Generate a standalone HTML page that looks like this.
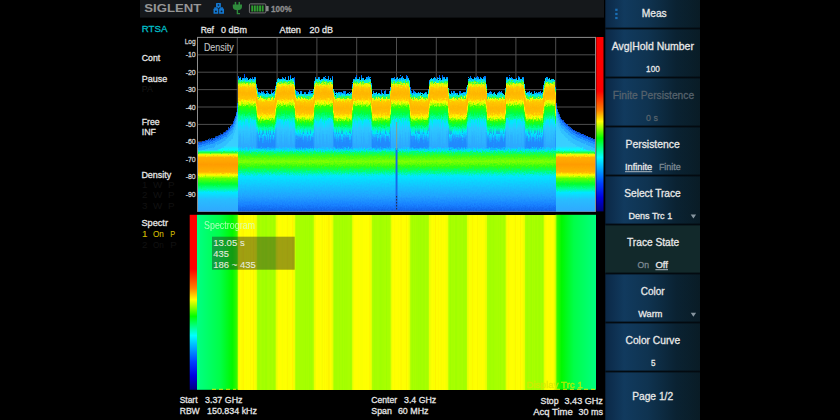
<!DOCTYPE html>
<html><head><meta charset="utf-8"><title>RTSA</title>
<style>html,body{margin:0;padding:0;background:#000;}svg{display:block;font-family:"Liberation Sans",sans-serif;}</style>
</head><body>
<svg width="840" height="420" viewBox="0 0 840 420">
<defs><filter id="spk2" filterUnits="userSpaceOnUse" x="190" y="30" width="412" height="192" color-interpolation-filters="sRGB"><feTurbulence type="fractalNoise" baseFrequency="0.75 0.55" numOctaves="2" seed="9" result="n"/><feColorMatrix in="n" type="matrix" values="0 0 0 0 0.5  0 1 0 0 0  0 0 0 0 0  0 0 0 0 1" result="m"/><feDisplacementMap in="SourceGraphic" in2="m" scale="2.5" xChannelSelector="R" yChannelSelector="G"/><feGaussianBlur stdDeviation="0.5"/></filter><filter id="spk" filterUnits="userSpaceOnUse" x="190" y="30" width="412" height="192" color-interpolation-filters="sRGB"><feTurbulence type="fractalNoise" baseFrequency="0.75 0.55" numOctaves="2" seed="4" result="n"/><feColorMatrix in="n" type="matrix" values="0 0 0 0 0.5  0 1 0 0 0  0 0 0 0 0  0 0 0 0 1" result="m"/><feDisplacementMap in="SourceGraphic" in2="m" scale="5.5" xChannelSelector="R" yChannelSelector="G"/><feGaussianBlur stdDeviation="0.45"/></filter><clipPath id="pc"><rect x="198" y="37.4" width="397" height="174.0"/></clipPath><linearGradient id="cbar" gradientUnits="objectBoundingBox" x1="0" y1="0" x2="0" y2="1"><stop offset="0.0000" stop-color="#ff0000"/><stop offset="0.3100" stop-color="#ff0000"/><stop offset="0.4200" stop-color="#ff8000"/><stop offset="0.4850" stop-color="#ffff00"/><stop offset="0.5800" stop-color="#00ff00"/><stop offset="0.6900" stop-color="#00ffff"/><stop offset="0.8400" stop-color="#0040ff"/><stop offset="0.9200" stop-color="#0000e0"/><stop offset="1.0000" stop-color="#000080"/></linearGradient><linearGradient id="d0_0" gradientUnits="userSpaceOnUse" x1="0" y1="70" x2="0" y2="218"><stop offset="0.1385" stop-color="#0048f0"/><stop offset="0.1530" stop-color="#0090ff"/><stop offset="0.1642" stop-color="#00e8ff"/><stop offset="0.1865" stop-color="#30ff30"/><stop offset="0.1922" stop-color="#f0ff00"/><stop offset="0.2167" stop-color="#ffc800"/><stop offset="0.2549" stop-color="#ffb400"/><stop offset="0.2913" stop-color="#ffc400"/><stop offset="0.3177" stop-color="#ffff00"/><stop offset="0.3282" stop-color="#a0ff00"/><stop offset="0.3471" stop-color="#30ff00"/><stop offset="0.3692" stop-color="#00ff40"/><stop offset="0.3931" stop-color="#00ffa0"/><stop offset="0.4153" stop-color="#00e8ff"/><stop offset="0.4614" stop-color="#2498ff"/><stop offset="0.4687" stop-color="#208cff"/><stop offset="0.5203" stop-color="#2088fc"/><stop offset="0.5405" stop-color="#00e0ff"/><stop offset="0.5574" stop-color="#00ff70"/><stop offset="0.5845" stop-color="#40ff10"/><stop offset="0.6182" stop-color="#80ff00"/><stop offset="0.6520" stop-color="#30ff10"/><stop offset="0.6824" stop-color="#00ff70"/><stop offset="0.7162" stop-color="#00e8ff"/><stop offset="0.7838" stop-color="#14c4ff"/><stop offset="0.8514" stop-color="#20a4ff"/><stop offset="0.9122" stop-color="#1880ff"/><stop offset="0.9554" stop-color="#1060e8"/><stop offset="1.0000" stop-color="#1060e8"/></linearGradient><linearGradient id="d0_1" gradientUnits="userSpaceOnUse" x1="0" y1="70" x2="0" y2="218"><stop offset="0.1385" stop-color="#0048f0"/><stop offset="0.1517" stop-color="#0090ff"/><stop offset="0.1706" stop-color="#00e8ff"/><stop offset="0.1905" stop-color="#30ff30"/><stop offset="0.1990" stop-color="#f0ff00"/><stop offset="0.2148" stop-color="#ffc800"/><stop offset="0.2632" stop-color="#ffb400"/><stop offset="0.2912" stop-color="#ffc400"/><stop offset="0.3224" stop-color="#ffff00"/><stop offset="0.3316" stop-color="#a0ff00"/><stop offset="0.3432" stop-color="#30ff00"/><stop offset="0.3698" stop-color="#00ff40"/><stop offset="0.3961" stop-color="#00ffa0"/><stop offset="0.4308" stop-color="#2498ff"/><stop offset="0.4339" stop-color="#00e8ff"/><stop offset="0.4903" stop-color="#208cff"/><stop offset="0.5203" stop-color="#2088fc"/><stop offset="0.5405" stop-color="#00e0ff"/><stop offset="0.5574" stop-color="#00ff70"/><stop offset="0.5845" stop-color="#40ff10"/><stop offset="0.6182" stop-color="#80ff00"/><stop offset="0.6520" stop-color="#30ff10"/><stop offset="0.6824" stop-color="#00ff70"/><stop offset="0.7162" stop-color="#00e8ff"/><stop offset="0.7838" stop-color="#14c4ff"/><stop offset="0.8514" stop-color="#20a4ff"/><stop offset="0.9122" stop-color="#1880ff"/><stop offset="0.9554" stop-color="#1060e8"/><stop offset="1.0000" stop-color="#1060e8"/></linearGradient><linearGradient id="d0_2" gradientUnits="userSpaceOnUse" x1="0" y1="70" x2="0" y2="218"><stop offset="0.1385" stop-color="#0048f0"/><stop offset="0.1573" stop-color="#0090ff"/><stop offset="0.1672" stop-color="#00e8ff"/><stop offset="0.1851" stop-color="#30ff30"/><stop offset="0.1921" stop-color="#f0ff00"/><stop offset="0.2103" stop-color="#ffc800"/><stop offset="0.2528" stop-color="#ffb400"/><stop offset="0.2997" stop-color="#ffc400"/><stop offset="0.3166" stop-color="#ffff00"/><stop offset="0.3319" stop-color="#a0ff00"/><stop offset="0.3491" stop-color="#30ff00"/><stop offset="0.3744" stop-color="#00ff40"/><stop offset="0.3959" stop-color="#00ffa0"/><stop offset="0.4328" stop-color="#00e8ff"/><stop offset="0.4554" stop-color="#2498ff"/><stop offset="0.4744" stop-color="#208cff"/><stop offset="0.5203" stop-color="#2088fc"/><stop offset="0.5405" stop-color="#00e0ff"/><stop offset="0.5574" stop-color="#00ff70"/><stop offset="0.5845" stop-color="#40ff10"/><stop offset="0.6182" stop-color="#80ff00"/><stop offset="0.6520" stop-color="#30ff10"/><stop offset="0.6824" stop-color="#00ff70"/><stop offset="0.7162" stop-color="#00e8ff"/><stop offset="0.7838" stop-color="#14c4ff"/><stop offset="0.8514" stop-color="#20a4ff"/><stop offset="0.9122" stop-color="#1880ff"/><stop offset="0.9554" stop-color="#1060e8"/><stop offset="1.0000" stop-color="#1060e8"/></linearGradient><linearGradient id="d0_3" gradientUnits="userSpaceOnUse" x1="0" y1="70" x2="0" y2="218"><stop offset="0.1385" stop-color="#0048f0"/><stop offset="0.1564" stop-color="#0090ff"/><stop offset="0.1693" stop-color="#00e8ff"/><stop offset="0.1895" stop-color="#30ff30"/><stop offset="0.2011" stop-color="#f0ff00"/><stop offset="0.2134" stop-color="#ffc800"/><stop offset="0.2632" stop-color="#ffb400"/><stop offset="0.2921" stop-color="#ffc400"/><stop offset="0.3165" stop-color="#ffff00"/><stop offset="0.3379" stop-color="#a0ff00"/><stop offset="0.3433" stop-color="#30ff00"/><stop offset="0.3749" stop-color="#00ff40"/><stop offset="0.3924" stop-color="#00ffa0"/><stop offset="0.4269" stop-color="#00e8ff"/><stop offset="0.4585" stop-color="#2498ff"/><stop offset="0.4899" stop-color="#208cff"/><stop offset="0.5203" stop-color="#2088fc"/><stop offset="0.5405" stop-color="#00e0ff"/><stop offset="0.5574" stop-color="#00ff70"/><stop offset="0.5845" stop-color="#40ff10"/><stop offset="0.6182" stop-color="#80ff00"/><stop offset="0.6520" stop-color="#30ff10"/><stop offset="0.6824" stop-color="#00ff70"/><stop offset="0.7162" stop-color="#00e8ff"/><stop offset="0.7838" stop-color="#14c4ff"/><stop offset="0.8514" stop-color="#20a4ff"/><stop offset="0.9122" stop-color="#1880ff"/><stop offset="0.9554" stop-color="#1060e8"/><stop offset="1.0000" stop-color="#1060e8"/></linearGradient><linearGradient id="d1_0" gradientUnits="userSpaceOnUse" x1="0" y1="70" x2="0" y2="218"><stop offset="0.1189" stop-color="#0048f0"/><stop offset="0.1410" stop-color="#0090ff"/><stop offset="0.1471" stop-color="#00e8ff"/><stop offset="0.1674" stop-color="#30ff30"/><stop offset="0.1795" stop-color="#f0ff00"/><stop offset="0.1977" stop-color="#ffc800"/><stop offset="0.2359" stop-color="#ffb400"/><stop offset="0.2816" stop-color="#ffc400"/><stop offset="0.3033" stop-color="#ffff00"/><stop offset="0.3138" stop-color="#a0ff00"/><stop offset="0.3306" stop-color="#30ff00"/><stop offset="0.3522" stop-color="#00ff40"/><stop offset="0.3865" stop-color="#00ffa0"/><stop offset="0.4114" stop-color="#00e8ff"/><stop offset="0.4585" stop-color="#26a2ff"/><stop offset="0.4990" stop-color="#2293ff"/><stop offset="0.5203" stop-color="#228efd"/><stop offset="0.5405" stop-color="#00e0ff"/><stop offset="0.5574" stop-color="#00ff70"/><stop offset="0.5845" stop-color="#40ff10"/><stop offset="0.6182" stop-color="#80ff00"/><stop offset="0.6520" stop-color="#30ff10"/><stop offset="0.6824" stop-color="#00ff70"/><stop offset="0.7162" stop-color="#00e8ff"/><stop offset="0.7838" stop-color="#14c4ff"/><stop offset="0.8514" stop-color="#20a4ff"/><stop offset="0.9122" stop-color="#1880ff"/><stop offset="0.9554" stop-color="#1060e8"/><stop offset="1.0000" stop-color="#1060e8"/></linearGradient><linearGradient id="d1_1" gradientUnits="userSpaceOnUse" x1="0" y1="70" x2="0" y2="218"><stop offset="0.1189" stop-color="#0048f0"/><stop offset="0.1330" stop-color="#0090ff"/><stop offset="0.1481" stop-color="#00e8ff"/><stop offset="0.1670" stop-color="#30ff30"/><stop offset="0.1718" stop-color="#f0ff00"/><stop offset="0.1961" stop-color="#ffc800"/><stop offset="0.2320" stop-color="#ffb400"/><stop offset="0.2719" stop-color="#ffc400"/><stop offset="0.2913" stop-color="#ffff00"/><stop offset="0.3178" stop-color="#a0ff00"/><stop offset="0.3234" stop-color="#30ff00"/><stop offset="0.3547" stop-color="#00ff40"/><stop offset="0.3823" stop-color="#00ffa0"/><stop offset="0.4153" stop-color="#26a2ff"/><stop offset="0.4220" stop-color="#00e8ff"/><stop offset="0.4814" stop-color="#2293ff"/><stop offset="0.5203" stop-color="#228efd"/><stop offset="0.5405" stop-color="#00e0ff"/><stop offset="0.5574" stop-color="#00ff70"/><stop offset="0.5845" stop-color="#40ff10"/><stop offset="0.6182" stop-color="#80ff00"/><stop offset="0.6520" stop-color="#30ff10"/><stop offset="0.6824" stop-color="#00ff70"/><stop offset="0.7162" stop-color="#00e8ff"/><stop offset="0.7838" stop-color="#14c4ff"/><stop offset="0.8514" stop-color="#20a4ff"/><stop offset="0.9122" stop-color="#1880ff"/><stop offset="0.9554" stop-color="#1060e8"/><stop offset="1.0000" stop-color="#1060e8"/></linearGradient><linearGradient id="d1_2" gradientUnits="userSpaceOnUse" x1="0" y1="70" x2="0" y2="218"><stop offset="0.1189" stop-color="#0048f0"/><stop offset="0.1366" stop-color="#0090ff"/><stop offset="0.1548" stop-color="#00e8ff"/><stop offset="0.1690" stop-color="#30ff30"/><stop offset="0.1832" stop-color="#f0ff00"/><stop offset="0.1936" stop-color="#ffc800"/><stop offset="0.2353" stop-color="#ffb400"/><stop offset="0.2751" stop-color="#ffc400"/><stop offset="0.3025" stop-color="#ffff00"/><stop offset="0.3204" stop-color="#a0ff00"/><stop offset="0.3237" stop-color="#30ff00"/><stop offset="0.3537" stop-color="#00ff40"/><stop offset="0.3802" stop-color="#00ffa0"/><stop offset="0.3918" stop-color="#00e8ff"/><stop offset="0.4344" stop-color="#26a2ff"/><stop offset="0.4880" stop-color="#2293ff"/><stop offset="0.5203" stop-color="#228efd"/><stop offset="0.5405" stop-color="#00e0ff"/><stop offset="0.5574" stop-color="#00ff70"/><stop offset="0.5845" stop-color="#40ff10"/><stop offset="0.6182" stop-color="#80ff00"/><stop offset="0.6520" stop-color="#30ff10"/><stop offset="0.6824" stop-color="#00ff70"/><stop offset="0.7162" stop-color="#00e8ff"/><stop offset="0.7838" stop-color="#14c4ff"/><stop offset="0.8514" stop-color="#20a4ff"/><stop offset="0.9122" stop-color="#1880ff"/><stop offset="0.9554" stop-color="#1060e8"/><stop offset="1.0000" stop-color="#1060e8"/></linearGradient><linearGradient id="d1_3" gradientUnits="userSpaceOnUse" x1="0" y1="70" x2="0" y2="218"><stop offset="0.1189" stop-color="#0048f0"/><stop offset="0.1327" stop-color="#0090ff"/><stop offset="0.1429" stop-color="#00e8ff"/><stop offset="0.1636" stop-color="#30ff30"/><stop offset="0.1765" stop-color="#f0ff00"/><stop offset="0.1975" stop-color="#ffc800"/><stop offset="0.2426" stop-color="#ffb400"/><stop offset="0.2796" stop-color="#ffc400"/><stop offset="0.2975" stop-color="#ffff00"/><stop offset="0.3158" stop-color="#a0ff00"/><stop offset="0.3308" stop-color="#30ff00"/><stop offset="0.3521" stop-color="#00ff40"/><stop offset="0.3892" stop-color="#00ffa0"/><stop offset="0.4177" stop-color="#00e8ff"/><stop offset="0.4528" stop-color="#26a2ff"/><stop offset="0.4979" stop-color="#2293ff"/><stop offset="0.5203" stop-color="#228efd"/><stop offset="0.5405" stop-color="#00e0ff"/><stop offset="0.5574" stop-color="#00ff70"/><stop offset="0.5845" stop-color="#40ff10"/><stop offset="0.6182" stop-color="#80ff00"/><stop offset="0.6520" stop-color="#30ff10"/><stop offset="0.6824" stop-color="#00ff70"/><stop offset="0.7162" stop-color="#00e8ff"/><stop offset="0.7838" stop-color="#14c4ff"/><stop offset="0.8514" stop-color="#20a4ff"/><stop offset="0.9122" stop-color="#1880ff"/><stop offset="0.9554" stop-color="#1060e8"/><stop offset="1.0000" stop-color="#1060e8"/></linearGradient><linearGradient id="d2_0" gradientUnits="userSpaceOnUse" x1="0" y1="70" x2="0" y2="218"><stop offset="0.0993" stop-color="#0048f0"/><stop offset="0.1150" stop-color="#0090ff"/><stop offset="0.1289" stop-color="#00e8ff"/><stop offset="0.1396" stop-color="#30ff30"/><stop offset="0.1603" stop-color="#f0ff00"/><stop offset="0.1711" stop-color="#ffc800"/><stop offset="0.2104" stop-color="#ffb400"/><stop offset="0.2528" stop-color="#ffc400"/><stop offset="0.2725" stop-color="#ffff00"/><stop offset="0.2918" stop-color="#a0ff00"/><stop offset="0.3027" stop-color="#30ff00"/><stop offset="0.3345" stop-color="#00ff40"/><stop offset="0.3642" stop-color="#00ffa0"/><stop offset="0.3712" stop-color="#00e8ff"/><stop offset="0.4179" stop-color="#27abff"/><stop offset="0.4586" stop-color="#259aff"/><stop offset="0.5203" stop-color="#2595fd"/><stop offset="0.5405" stop-color="#00e0ff"/><stop offset="0.5574" stop-color="#00ff70"/><stop offset="0.5845" stop-color="#40ff10"/><stop offset="0.6182" stop-color="#80ff00"/><stop offset="0.6520" stop-color="#30ff10"/><stop offset="0.6824" stop-color="#00ff70"/><stop offset="0.7162" stop-color="#00e8ff"/><stop offset="0.7838" stop-color="#14c4ff"/><stop offset="0.8514" stop-color="#20a4ff"/><stop offset="0.9122" stop-color="#1880ff"/><stop offset="0.9554" stop-color="#1060e8"/><stop offset="1.0000" stop-color="#1060e8"/></linearGradient><linearGradient id="d2_1" gradientUnits="userSpaceOnUse" x1="0" y1="70" x2="0" y2="218"><stop offset="0.0993" stop-color="#0048f0"/><stop offset="0.1215" stop-color="#0090ff"/><stop offset="0.1318" stop-color="#00e8ff"/><stop offset="0.1403" stop-color="#30ff30"/><stop offset="0.1552" stop-color="#f0ff00"/><stop offset="0.1750" stop-color="#ffc800"/><stop offset="0.2144" stop-color="#ffb400"/><stop offset="0.2517" stop-color="#ffc400"/><stop offset="0.2817" stop-color="#ffff00"/><stop offset="0.3006" stop-color="#a0ff00"/><stop offset="0.3083" stop-color="#30ff00"/><stop offset="0.3410" stop-color="#00ff40"/><stop offset="0.3633" stop-color="#00ffa0"/><stop offset="0.3712" stop-color="#00e8ff"/><stop offset="0.4169" stop-color="#27abff"/><stop offset="0.4700" stop-color="#259aff"/><stop offset="0.5203" stop-color="#2595fd"/><stop offset="0.5405" stop-color="#00e0ff"/><stop offset="0.5574" stop-color="#00ff70"/><stop offset="0.5845" stop-color="#40ff10"/><stop offset="0.6182" stop-color="#80ff00"/><stop offset="0.6520" stop-color="#30ff10"/><stop offset="0.6824" stop-color="#00ff70"/><stop offset="0.7162" stop-color="#00e8ff"/><stop offset="0.7838" stop-color="#14c4ff"/><stop offset="0.8514" stop-color="#20a4ff"/><stop offset="0.9122" stop-color="#1880ff"/><stop offset="0.9554" stop-color="#1060e8"/><stop offset="1.0000" stop-color="#1060e8"/></linearGradient><linearGradient id="d2_2" gradientUnits="userSpaceOnUse" x1="0" y1="70" x2="0" y2="218"><stop offset="0.0993" stop-color="#0048f0"/><stop offset="0.1209" stop-color="#0090ff"/><stop offset="0.1257" stop-color="#00e8ff"/><stop offset="0.1386" stop-color="#30ff30"/><stop offset="0.1646" stop-color="#f0ff00"/><stop offset="0.1774" stop-color="#ffc800"/><stop offset="0.2114" stop-color="#ffb400"/><stop offset="0.2573" stop-color="#ffc400"/><stop offset="0.2706" stop-color="#ffff00"/><stop offset="0.2943" stop-color="#a0ff00"/><stop offset="0.3153" stop-color="#30ff00"/><stop offset="0.3461" stop-color="#00ff40"/><stop offset="0.3716" stop-color="#00ffa0"/><stop offset="0.3787" stop-color="#00e8ff"/><stop offset="0.4180" stop-color="#27abff"/><stop offset="0.4653" stop-color="#259aff"/><stop offset="0.5203" stop-color="#2595fd"/><stop offset="0.5405" stop-color="#00e0ff"/><stop offset="0.5574" stop-color="#00ff70"/><stop offset="0.5845" stop-color="#40ff10"/><stop offset="0.6182" stop-color="#80ff00"/><stop offset="0.6520" stop-color="#30ff10"/><stop offset="0.6824" stop-color="#00ff70"/><stop offset="0.7162" stop-color="#00e8ff"/><stop offset="0.7838" stop-color="#14c4ff"/><stop offset="0.8514" stop-color="#20a4ff"/><stop offset="0.9122" stop-color="#1880ff"/><stop offset="0.9554" stop-color="#1060e8"/><stop offset="1.0000" stop-color="#1060e8"/></linearGradient><linearGradient id="d2_3" gradientUnits="userSpaceOnUse" x1="0" y1="70" x2="0" y2="218"><stop offset="0.0993" stop-color="#0048f0"/><stop offset="0.1202" stop-color="#0090ff"/><stop offset="0.1307" stop-color="#00e8ff"/><stop offset="0.1488" stop-color="#30ff30"/><stop offset="0.1562" stop-color="#f0ff00"/><stop offset="0.1733" stop-color="#ffc800"/><stop offset="0.2204" stop-color="#ffb400"/><stop offset="0.2633" stop-color="#ffc400"/><stop offset="0.2818" stop-color="#ffff00"/><stop offset="0.2981" stop-color="#a0ff00"/><stop offset="0.3131" stop-color="#30ff00"/><stop offset="0.3445" stop-color="#00ff40"/><stop offset="0.3652" stop-color="#00ffa0"/><stop offset="0.3908" stop-color="#00e8ff"/><stop offset="0.4175" stop-color="#27abff"/><stop offset="0.4588" stop-color="#259aff"/><stop offset="0.5203" stop-color="#2595fd"/><stop offset="0.5405" stop-color="#00e0ff"/><stop offset="0.5574" stop-color="#00ff70"/><stop offset="0.5845" stop-color="#40ff10"/><stop offset="0.6182" stop-color="#80ff00"/><stop offset="0.6520" stop-color="#30ff10"/><stop offset="0.6824" stop-color="#00ff70"/><stop offset="0.7162" stop-color="#00e8ff"/><stop offset="0.7838" stop-color="#14c4ff"/><stop offset="0.8514" stop-color="#20a4ff"/><stop offset="0.9122" stop-color="#1880ff"/><stop offset="0.9554" stop-color="#1060e8"/><stop offset="1.0000" stop-color="#1060e8"/></linearGradient><linearGradient id="d3_0" gradientUnits="userSpaceOnUse" x1="0" y1="70" x2="0" y2="218"><stop offset="0.0797" stop-color="#0048f0"/><stop offset="0.0906" stop-color="#0090ff"/><stop offset="0.1080" stop-color="#00e8ff"/><stop offset="0.1220" stop-color="#30ff30"/><stop offset="0.1414" stop-color="#f0ff00"/><stop offset="0.1636" stop-color="#ffc800"/><stop offset="0.1952" stop-color="#ffb400"/><stop offset="0.2424" stop-color="#ffc400"/><stop offset="0.2634" stop-color="#ffff00"/><stop offset="0.2798" stop-color="#a0ff00"/><stop offset="0.2874" stop-color="#30ff00"/><stop offset="0.3205" stop-color="#00ff40"/><stop offset="0.3504" stop-color="#00ffa0"/><stop offset="0.3612" stop-color="#00e8ff"/><stop offset="0.3995" stop-color="#29b5ff"/><stop offset="0.4842" stop-color="#27a2ff"/><stop offset="0.5203" stop-color="#279bfe"/><stop offset="0.5405" stop-color="#00e0ff"/><stop offset="0.5574" stop-color="#00ff70"/><stop offset="0.5845" stop-color="#40ff10"/><stop offset="0.6182" stop-color="#80ff00"/><stop offset="0.6520" stop-color="#30ff10"/><stop offset="0.6824" stop-color="#00ff70"/><stop offset="0.7162" stop-color="#00e8ff"/><stop offset="0.7838" stop-color="#14c4ff"/><stop offset="0.8514" stop-color="#20a4ff"/><stop offset="0.9122" stop-color="#1880ff"/><stop offset="0.9554" stop-color="#1060e8"/><stop offset="1.0000" stop-color="#1060e8"/></linearGradient><linearGradient id="d3_1" gradientUnits="userSpaceOnUse" x1="0" y1="70" x2="0" y2="218"><stop offset="0.0797" stop-color="#0048f0"/><stop offset="0.1024" stop-color="#0090ff"/><stop offset="0.1155" stop-color="#00e8ff"/><stop offset="0.1250" stop-color="#30ff30"/><stop offset="0.1409" stop-color="#f0ff00"/><stop offset="0.1615" stop-color="#ffc800"/><stop offset="0.1903" stop-color="#ffb400"/><stop offset="0.2387" stop-color="#ffc400"/><stop offset="0.2623" stop-color="#ffff00"/><stop offset="0.2775" stop-color="#a0ff00"/><stop offset="0.2926" stop-color="#30ff00"/><stop offset="0.3240" stop-color="#00ff40"/><stop offset="0.3497" stop-color="#00ffa0"/><stop offset="0.3892" stop-color="#00e8ff"/><stop offset="0.4056" stop-color="#29b5ff"/><stop offset="0.4926" stop-color="#27a2ff"/><stop offset="0.5203" stop-color="#279bfe"/><stop offset="0.5405" stop-color="#00e0ff"/><stop offset="0.5574" stop-color="#00ff70"/><stop offset="0.5845" stop-color="#40ff10"/><stop offset="0.6182" stop-color="#80ff00"/><stop offset="0.6520" stop-color="#30ff10"/><stop offset="0.6824" stop-color="#00ff70"/><stop offset="0.7162" stop-color="#00e8ff"/><stop offset="0.7838" stop-color="#14c4ff"/><stop offset="0.8514" stop-color="#20a4ff"/><stop offset="0.9122" stop-color="#1880ff"/><stop offset="0.9554" stop-color="#1060e8"/><stop offset="1.0000" stop-color="#1060e8"/></linearGradient><linearGradient id="d3_2" gradientUnits="userSpaceOnUse" x1="0" y1="70" x2="0" y2="218"><stop offset="0.0797" stop-color="#0048f0"/><stop offset="0.1034" stop-color="#0090ff"/><stop offset="0.1095" stop-color="#00e8ff"/><stop offset="0.1239" stop-color="#30ff30"/><stop offset="0.1448" stop-color="#f0ff00"/><stop offset="0.1605" stop-color="#ffc800"/><stop offset="0.1915" stop-color="#ffb400"/><stop offset="0.2314" stop-color="#ffc400"/><stop offset="0.2520" stop-color="#ffff00"/><stop offset="0.2791" stop-color="#a0ff00"/><stop offset="0.2933" stop-color="#30ff00"/><stop offset="0.3195" stop-color="#00ff40"/><stop offset="0.3585" stop-color="#00ffa0"/><stop offset="0.3983" stop-color="#00e8ff"/><stop offset="0.4210" stop-color="#29b5ff"/><stop offset="0.4713" stop-color="#27a2ff"/><stop offset="0.5203" stop-color="#279bfe"/><stop offset="0.5405" stop-color="#00e0ff"/><stop offset="0.5574" stop-color="#00ff70"/><stop offset="0.5845" stop-color="#40ff10"/><stop offset="0.6182" stop-color="#80ff00"/><stop offset="0.6520" stop-color="#30ff10"/><stop offset="0.6824" stop-color="#00ff70"/><stop offset="0.7162" stop-color="#00e8ff"/><stop offset="0.7838" stop-color="#14c4ff"/><stop offset="0.8514" stop-color="#20a4ff"/><stop offset="0.9122" stop-color="#1880ff"/><stop offset="0.9554" stop-color="#1060e8"/><stop offset="1.0000" stop-color="#1060e8"/></linearGradient><linearGradient id="d3_3" gradientUnits="userSpaceOnUse" x1="0" y1="70" x2="0" y2="218"><stop offset="0.0797" stop-color="#0048f0"/><stop offset="0.0977" stop-color="#0090ff"/><stop offset="0.1060" stop-color="#00e8ff"/><stop offset="0.1187" stop-color="#30ff30"/><stop offset="0.1451" stop-color="#f0ff00"/><stop offset="0.1595" stop-color="#ffc800"/><stop offset="0.1963" stop-color="#ffb400"/><stop offset="0.2423" stop-color="#ffc400"/><stop offset="0.2559" stop-color="#ffff00"/><stop offset="0.2787" stop-color="#a0ff00"/><stop offset="0.2936" stop-color="#30ff00"/><stop offset="0.3204" stop-color="#00ff40"/><stop offset="0.3507" stop-color="#00ffa0"/><stop offset="0.3657" stop-color="#00e8ff"/><stop offset="0.4012" stop-color="#29b5ff"/><stop offset="0.4825" stop-color="#27a2ff"/><stop offset="0.5203" stop-color="#279bfe"/><stop offset="0.5405" stop-color="#00e0ff"/><stop offset="0.5574" stop-color="#00ff70"/><stop offset="0.5845" stop-color="#40ff10"/><stop offset="0.6182" stop-color="#80ff00"/><stop offset="0.6520" stop-color="#30ff10"/><stop offset="0.6824" stop-color="#00ff70"/><stop offset="0.7162" stop-color="#00e8ff"/><stop offset="0.7838" stop-color="#14c4ff"/><stop offset="0.8514" stop-color="#20a4ff"/><stop offset="0.9122" stop-color="#1880ff"/><stop offset="0.9554" stop-color="#1060e8"/><stop offset="1.0000" stop-color="#1060e8"/></linearGradient><linearGradient id="d4_0" gradientUnits="userSpaceOnUse" x1="0" y1="70" x2="0" y2="218"><stop offset="0.0601" stop-color="#0048f0"/><stop offset="0.0743" stop-color="#0090ff"/><stop offset="0.0905" stop-color="#00e8ff"/><stop offset="0.1006" stop-color="#30ff30"/><stop offset="0.1246" stop-color="#f0ff00"/><stop offset="0.1359" stop-color="#ffc800"/><stop offset="0.1751" stop-color="#ffb400"/><stop offset="0.2173" stop-color="#ffc400"/><stop offset="0.2419" stop-color="#ffff00"/><stop offset="0.2523" stop-color="#a0ff00"/><stop offset="0.2752" stop-color="#30ff00"/><stop offset="0.3075" stop-color="#00ff40"/><stop offset="0.3396" stop-color="#00ffa0"/><stop offset="0.3622" stop-color="#00e8ff"/><stop offset="0.3799" stop-color="#2abeff"/><stop offset="0.4728" stop-color="#2aa9ff"/><stop offset="0.5203" stop-color="#2aa2fe"/><stop offset="0.5405" stop-color="#00e0ff"/><stop offset="0.5574" stop-color="#00ff70"/><stop offset="0.5845" stop-color="#40ff10"/><stop offset="0.6182" stop-color="#80ff00"/><stop offset="0.6520" stop-color="#30ff10"/><stop offset="0.6824" stop-color="#00ff70"/><stop offset="0.7162" stop-color="#00e8ff"/><stop offset="0.7838" stop-color="#14c4ff"/><stop offset="0.8514" stop-color="#20a4ff"/><stop offset="0.9122" stop-color="#1880ff"/><stop offset="0.9554" stop-color="#1060e8"/><stop offset="1.0000" stop-color="#1060e8"/></linearGradient><linearGradient id="d4_1" gradientUnits="userSpaceOnUse" x1="0" y1="70" x2="0" y2="218"><stop offset="0.0601" stop-color="#0048f0"/><stop offset="0.0733" stop-color="#0090ff"/><stop offset="0.0849" stop-color="#00e8ff"/><stop offset="0.1096" stop-color="#30ff30"/><stop offset="0.1146" stop-color="#f0ff00"/><stop offset="0.1375" stop-color="#ffc800"/><stop offset="0.1787" stop-color="#ffb400"/><stop offset="0.2170" stop-color="#ffc400"/><stop offset="0.2341" stop-color="#ffff00"/><stop offset="0.2536" stop-color="#a0ff00"/><stop offset="0.2703" stop-color="#30ff00"/><stop offset="0.3113" stop-color="#00ff40"/><stop offset="0.3339" stop-color="#00ffa0"/><stop offset="0.3639" stop-color="#00e8ff"/><stop offset="0.3908" stop-color="#2abeff"/><stop offset="0.4651" stop-color="#2aa9ff"/><stop offset="0.5203" stop-color="#2aa2fe"/><stop offset="0.5405" stop-color="#00e0ff"/><stop offset="0.5574" stop-color="#00ff70"/><stop offset="0.5845" stop-color="#40ff10"/><stop offset="0.6182" stop-color="#80ff00"/><stop offset="0.6520" stop-color="#30ff10"/><stop offset="0.6824" stop-color="#00ff70"/><stop offset="0.7162" stop-color="#00e8ff"/><stop offset="0.7838" stop-color="#14c4ff"/><stop offset="0.8514" stop-color="#20a4ff"/><stop offset="0.9122" stop-color="#1880ff"/><stop offset="0.9554" stop-color="#1060e8"/><stop offset="1.0000" stop-color="#1060e8"/></linearGradient><linearGradient id="d4_2" gradientUnits="userSpaceOnUse" x1="0" y1="70" x2="0" y2="218"><stop offset="0.0601" stop-color="#0048f0"/><stop offset="0.0812" stop-color="#0090ff"/><stop offset="0.0917" stop-color="#00e8ff"/><stop offset="0.1064" stop-color="#30ff30"/><stop offset="0.1226" stop-color="#f0ff00"/><stop offset="0.1434" stop-color="#ffc800"/><stop offset="0.1749" stop-color="#ffb400"/><stop offset="0.2177" stop-color="#ffc400"/><stop offset="0.2366" stop-color="#ffff00"/><stop offset="0.2535" stop-color="#a0ff00"/><stop offset="0.2722" stop-color="#30ff00"/><stop offset="0.3068" stop-color="#00ff40"/><stop offset="0.3396" stop-color="#00ffa0"/><stop offset="0.3600" stop-color="#00e8ff"/><stop offset="0.4236" stop-color="#2abeff"/><stop offset="0.4851" stop-color="#2aa9ff"/><stop offset="0.5203" stop-color="#2aa2fe"/><stop offset="0.5405" stop-color="#00e0ff"/><stop offset="0.5574" stop-color="#00ff70"/><stop offset="0.5845" stop-color="#40ff10"/><stop offset="0.6182" stop-color="#80ff00"/><stop offset="0.6520" stop-color="#30ff10"/><stop offset="0.6824" stop-color="#00ff70"/><stop offset="0.7162" stop-color="#00e8ff"/><stop offset="0.7838" stop-color="#14c4ff"/><stop offset="0.8514" stop-color="#20a4ff"/><stop offset="0.9122" stop-color="#1880ff"/><stop offset="0.9554" stop-color="#1060e8"/><stop offset="1.0000" stop-color="#1060e8"/></linearGradient><linearGradient id="d4_3" gradientUnits="userSpaceOnUse" x1="0" y1="70" x2="0" y2="218"><stop offset="0.0601" stop-color="#0048f0"/><stop offset="0.0827" stop-color="#0090ff"/><stop offset="0.0976" stop-color="#00e8ff"/><stop offset="0.1023" stop-color="#30ff30"/><stop offset="0.1199" stop-color="#f0ff00"/><stop offset="0.1438" stop-color="#ffc800"/><stop offset="0.1803" stop-color="#ffb400"/><stop offset="0.2113" stop-color="#ffc400"/><stop offset="0.2314" stop-color="#ffff00"/><stop offset="0.2526" stop-color="#a0ff00"/><stop offset="0.2638" stop-color="#30ff00"/><stop offset="0.3039" stop-color="#00ff40"/><stop offset="0.3334" stop-color="#00ffa0"/><stop offset="0.3691" stop-color="#00e8ff"/><stop offset="0.4161" stop-color="#2abeff"/><stop offset="0.4945" stop-color="#2aa9ff"/><stop offset="0.5203" stop-color="#2aa2fe"/><stop offset="0.5405" stop-color="#00e0ff"/><stop offset="0.5574" stop-color="#00ff70"/><stop offset="0.5845" stop-color="#40ff10"/><stop offset="0.6182" stop-color="#80ff00"/><stop offset="0.6520" stop-color="#30ff10"/><stop offset="0.6824" stop-color="#00ff70"/><stop offset="0.7162" stop-color="#00e8ff"/><stop offset="0.7838" stop-color="#14c4ff"/><stop offset="0.8514" stop-color="#20a4ff"/><stop offset="0.9122" stop-color="#1880ff"/><stop offset="0.9554" stop-color="#1060e8"/><stop offset="1.0000" stop-color="#1060e8"/></linearGradient><linearGradient id="d5_0" gradientUnits="userSpaceOnUse" x1="0" y1="70" x2="0" y2="218"><stop offset="0.0405" stop-color="#0048f0"/><stop offset="0.0534" stop-color="#0090ff"/><stop offset="0.0752" stop-color="#00e8ff"/><stop offset="0.0880" stop-color="#30ff30"/><stop offset="0.0945" stop-color="#f0ff00"/><stop offset="0.1234" stop-color="#ffc800"/><stop offset="0.1617" stop-color="#ffb400"/><stop offset="0.1922" stop-color="#ffc400"/><stop offset="0.2223" stop-color="#ffff00"/><stop offset="0.2317" stop-color="#a0ff00"/><stop offset="0.2498" stop-color="#30ff00"/><stop offset="0.2972" stop-color="#00ff40"/><stop offset="0.3288" stop-color="#00ffa0"/><stop offset="0.3306" stop-color="#00e8ff"/><stop offset="0.3887" stop-color="#2cc8ff"/><stop offset="0.4737" stop-color="#2cb0ff"/><stop offset="0.5203" stop-color="#2ca8ff"/><stop offset="0.5405" stop-color="#00e0ff"/><stop offset="0.5574" stop-color="#00ff70"/><stop offset="0.5845" stop-color="#40ff10"/><stop offset="0.6182" stop-color="#80ff00"/><stop offset="0.6520" stop-color="#30ff10"/><stop offset="0.6824" stop-color="#00ff70"/><stop offset="0.7162" stop-color="#00e8ff"/><stop offset="0.7838" stop-color="#14c4ff"/><stop offset="0.8514" stop-color="#20a4ff"/><stop offset="0.9122" stop-color="#1880ff"/><stop offset="0.9554" stop-color="#1060e8"/><stop offset="1.0000" stop-color="#1060e8"/></linearGradient><linearGradient id="d5_1" gradientUnits="userSpaceOnUse" x1="0" y1="70" x2="0" y2="218"><stop offset="0.0405" stop-color="#0048f0"/><stop offset="0.0559" stop-color="#0090ff"/><stop offset="0.0682" stop-color="#00e8ff"/><stop offset="0.0834" stop-color="#30ff30"/><stop offset="0.1023" stop-color="#f0ff00"/><stop offset="0.1117" stop-color="#ffc800"/><stop offset="0.1561" stop-color="#ffb400"/><stop offset="0.1951" stop-color="#ffc400"/><stop offset="0.2097" stop-color="#ffff00"/><stop offset="0.2308" stop-color="#a0ff00"/><stop offset="0.2517" stop-color="#30ff00"/><stop offset="0.2907" stop-color="#00ff40"/><stop offset="0.3184" stop-color="#00ffa0"/><stop offset="0.3696" stop-color="#00e8ff"/><stop offset="0.4055" stop-color="#2cc8ff"/><stop offset="0.4953" stop-color="#2cb0ff"/><stop offset="0.5203" stop-color="#2ca8ff"/><stop offset="0.5405" stop-color="#00e0ff"/><stop offset="0.5574" stop-color="#00ff70"/><stop offset="0.5845" stop-color="#40ff10"/><stop offset="0.6182" stop-color="#80ff00"/><stop offset="0.6520" stop-color="#30ff10"/><stop offset="0.6824" stop-color="#00ff70"/><stop offset="0.7162" stop-color="#00e8ff"/><stop offset="0.7838" stop-color="#14c4ff"/><stop offset="0.8514" stop-color="#20a4ff"/><stop offset="0.9122" stop-color="#1880ff"/><stop offset="0.9554" stop-color="#1060e8"/><stop offset="1.0000" stop-color="#1060e8"/></linearGradient><linearGradient id="d5_2" gradientUnits="userSpaceOnUse" x1="0" y1="70" x2="0" y2="218"><stop offset="0.0405" stop-color="#0048f0"/><stop offset="0.0528" stop-color="#0090ff"/><stop offset="0.0691" stop-color="#00e8ff"/><stop offset="0.0796" stop-color="#30ff30"/><stop offset="0.1031" stop-color="#f0ff00"/><stop offset="0.1151" stop-color="#ffc800"/><stop offset="0.1504" stop-color="#ffb400"/><stop offset="0.1949" stop-color="#ffc400"/><stop offset="0.2218" stop-color="#ffff00"/><stop offset="0.2374" stop-color="#a0ff00"/><stop offset="0.2467" stop-color="#30ff00"/><stop offset="0.2858" stop-color="#00ff40"/><stop offset="0.3300" stop-color="#00ffa0"/><stop offset="0.3500" stop-color="#00e8ff"/><stop offset="0.4014" stop-color="#2cc8ff"/><stop offset="0.4536" stop-color="#2cb0ff"/><stop offset="0.5203" stop-color="#2ca8ff"/><stop offset="0.5405" stop-color="#00e0ff"/><stop offset="0.5574" stop-color="#00ff70"/><stop offset="0.5845" stop-color="#40ff10"/><stop offset="0.6182" stop-color="#80ff00"/><stop offset="0.6520" stop-color="#30ff10"/><stop offset="0.6824" stop-color="#00ff70"/><stop offset="0.7162" stop-color="#00e8ff"/><stop offset="0.7838" stop-color="#14c4ff"/><stop offset="0.8514" stop-color="#20a4ff"/><stop offset="0.9122" stop-color="#1880ff"/><stop offset="0.9554" stop-color="#1060e8"/><stop offset="1.0000" stop-color="#1060e8"/></linearGradient><linearGradient id="d5_3" gradientUnits="userSpaceOnUse" x1="0" y1="70" x2="0" y2="218"><stop offset="0.0405" stop-color="#0048f0"/><stop offset="0.0521" stop-color="#0090ff"/><stop offset="0.0748" stop-color="#00e8ff"/><stop offset="0.0848" stop-color="#30ff30"/><stop offset="0.0935" stop-color="#f0ff00"/><stop offset="0.1242" stop-color="#ffc800"/><stop offset="0.1572" stop-color="#ffb400"/><stop offset="0.2000" stop-color="#ffc400"/><stop offset="0.2106" stop-color="#ffff00"/><stop offset="0.2379" stop-color="#a0ff00"/><stop offset="0.2441" stop-color="#30ff00"/><stop offset="0.2954" stop-color="#00ff40"/><stop offset="0.3237" stop-color="#00ffa0"/><stop offset="0.3390" stop-color="#00e8ff"/><stop offset="0.3944" stop-color="#2cc8ff"/><stop offset="0.4932" stop-color="#2cb0ff"/><stop offset="0.5203" stop-color="#2ca8ff"/><stop offset="0.5405" stop-color="#00e0ff"/><stop offset="0.5574" stop-color="#00ff70"/><stop offset="0.5845" stop-color="#40ff10"/><stop offset="0.6182" stop-color="#80ff00"/><stop offset="0.6520" stop-color="#30ff10"/><stop offset="0.6824" stop-color="#00ff70"/><stop offset="0.7162" stop-color="#00e8ff"/><stop offset="0.7838" stop-color="#14c4ff"/><stop offset="0.8514" stop-color="#20a4ff"/><stop offset="0.9122" stop-color="#1880ff"/><stop offset="0.9554" stop-color="#1060e8"/><stop offset="1.0000" stop-color="#1060e8"/></linearGradient><linearGradient id="side" gradientUnits="userSpaceOnUse" x1="0" y1="100" x2="0" y2="211.4"><stop offset="0.0000" stop-color="#38c8ff"/><stop offset="0.4129" stop-color="#38d0ff"/><stop offset="0.4488" stop-color="#00ffff"/><stop offset="0.4713" stop-color="#20ff40"/><stop offset="0.4919" stop-color="#ffff00"/><stop offset="0.5162" stop-color="#ffb000"/><stop offset="0.5790" stop-color="#ff9c00"/><stop offset="0.6463" stop-color="#ffb000"/><stop offset="0.6732" stop-color="#ffff00"/><stop offset="0.7047" stop-color="#60ff00"/><stop offset="0.7540" stop-color="#00ff30"/><stop offset="0.7944" stop-color="#00ff90"/><stop offset="0.8303" stop-color="#00e8ff"/><stop offset="0.8977" stop-color="#28bcff"/><stop offset="1.0000" stop-color="#30a8ff"/></linearGradient><linearGradient id="sgl" gradientUnits="objectBoundingBox" x1="0" y1="0" x2="1" y2="0"><stop offset="0.0000" stop-color="#00ff84"/><stop offset="0.5500" stop-color="#00ff48"/><stop offset="0.8500" stop-color="#00f800"/><stop offset="0.9500" stop-color="#30f800"/><stop offset="1.0000" stop-color="#a0ff00"/></linearGradient><linearGradient id="sgr" gradientUnits="objectBoundingBox" x1="0" y1="0" x2="1" y2="0"><stop offset="0.0000" stop-color="#a0ff00"/><stop offset="0.0500" stop-color="#30f800"/><stop offset="0.1500" stop-color="#00f800"/><stop offset="0.4500" stop-color="#00ff48"/><stop offset="1.0000" stop-color="#00ff80"/></linearGradient><linearGradient id="mp" gradientUnits="objectBoundingBox" x1="0" y1="0" x2="1" y2="0"><stop offset="0.0000" stop-color="#0b2846"/><stop offset="0.2000" stop-color="#113a5e"/><stop offset="0.4500" stop-color="#0f3350"/><stop offset="0.7500" stop-color="#0a2232"/><stop offset="1.0000" stop-color="#091c26"/></linearGradient></defs>
<rect x="0" y="0" width="840" height="420" fill="#000"/>
<rect x="140" y="0" width="464" height="17.6" fill="#15181b"/>
<g stroke="#4e4e4e" stroke-width="1"><line x1="237.30" y1="37.4" x2="237.30" y2="211.4"/><line x1="197.5" y1="54.80" x2="595.5" y2="54.80"/><line x1="277.10" y1="37.4" x2="277.10" y2="211.4"/><line x1="197.5" y1="72.20" x2="595.5" y2="72.20"/><line x1="316.90" y1="37.4" x2="316.90" y2="211.4"/><line x1="197.5" y1="89.60" x2="595.5" y2="89.60"/><line x1="356.70" y1="37.4" x2="356.70" y2="211.4"/><line x1="197.5" y1="107.00" x2="595.5" y2="107.00"/><line x1="396.50" y1="37.4" x2="396.50" y2="211.4"/><line x1="197.5" y1="124.40" x2="595.5" y2="124.40"/><line x1="436.30" y1="37.4" x2="436.30" y2="211.4"/><line x1="197.5" y1="141.80" x2="595.5" y2="141.80"/><line x1="476.10" y1="37.4" x2="476.10" y2="211.4"/><line x1="197.5" y1="159.20" x2="595.5" y2="159.20"/><line x1="515.90" y1="37.4" x2="515.90" y2="211.4"/><line x1="197.5" y1="176.60" x2="595.5" y2="176.60"/><line x1="555.70" y1="37.4" x2="555.70" y2="211.4"/><line x1="197.5" y1="194.00" x2="595.5" y2="194.00"/></g>
<rect x="197.5" y="37.4" width="398.0" height="174.0" fill="none" stroke="#8c8c8c" stroke-width="1"/>
<g clip-path="url(#pc)"><g filter="url(#spk)"><g shape-rendering="crispEdges"><rect x="238" y="76.0" width="1" height="141.4" fill="url(#d5_1)"/><rect x="239" y="79.4" width="1" height="138.0" fill="url(#d5_2)"/><rect x="240" y="76.8" width="1" height="140.6" fill="url(#d5_2)"/><rect x="241" y="78.5" width="1" height="138.9" fill="url(#d5_1)"/><rect x="242" y="77.5" width="1" height="139.9" fill="url(#d5_1)"/><rect x="243" y="77.5" width="1" height="139.9" fill="url(#d5_2)"/><rect x="244" y="75.4" width="1" height="142.0" fill="url(#d5_1)"/><rect x="245" y="78.2" width="1" height="139.2" fill="url(#d5_3)"/><rect x="246" y="77.0" width="1" height="140.4" fill="url(#d5_3)"/><rect x="247" y="78.6" width="1" height="138.8" fill="url(#d5_3)"/><rect x="248" y="79.5" width="1" height="137.9" fill="url(#d5_1)"/><rect x="249" y="79.5" width="1" height="137.9" fill="url(#d5_1)"/><rect x="250" y="77.9" width="1" height="139.5" fill="url(#d5_0)"/><rect x="251" y="77.6" width="1" height="139.8" fill="url(#d5_2)"/><rect x="252" y="76.4" width="1" height="141.0" fill="url(#d5_3)"/><rect x="253" y="79.2" width="1" height="138.2" fill="url(#d5_2)"/><rect x="254" y="78.4" width="1" height="139.0" fill="url(#d5_0)"/><rect x="255" y="76.7" width="1" height="140.7" fill="url(#d5_2)"/><rect x="256" y="83.6" width="1" height="133.8" fill="url(#d3_2)"/><rect x="257" y="89.0" width="1" height="128.4" fill="url(#d1_2)"/><rect x="258" y="91.8" width="1" height="125.6" fill="url(#d0_2)"/><rect x="259" y="92.3" width="1" height="125.1" fill="url(#d0_1)"/><rect x="260" y="91.9" width="1" height="125.5" fill="url(#d0_0)"/><rect x="261" y="90.7" width="1" height="126.7" fill="url(#d0_0)"/><rect x="262" y="92.3" width="1" height="125.1" fill="url(#d0_1)"/><rect x="263" y="91.4" width="1" height="126.0" fill="url(#d0_1)"/><rect x="264" y="93.1" width="1" height="124.3" fill="url(#d0_3)"/><rect x="265" y="93.4" width="1" height="124.0" fill="url(#d0_3)"/><rect x="266" y="91.6" width="1" height="125.8" fill="url(#d0_1)"/><rect x="267" y="91.3" width="1" height="126.1" fill="url(#d0_3)"/><rect x="268" y="93.3" width="1" height="124.1" fill="url(#d0_1)"/><rect x="269" y="93.8" width="1" height="123.6" fill="url(#d0_0)"/><rect x="270" y="93.6" width="1" height="123.8" fill="url(#d0_1)"/><rect x="271" y="89.9" width="1" height="127.5" fill="url(#d0_0)"/><rect x="272" y="92.3" width="1" height="125.1" fill="url(#d0_0)"/><rect x="273" y="93.0" width="1" height="124.4" fill="url(#d0_1)"/><rect x="274" y="90.9" width="1" height="126.5" fill="url(#d0_0)"/><rect x="275" y="85.6" width="1" height="131.8" fill="url(#d2_2)"/><rect x="276" y="81.9" width="1" height="135.5" fill="url(#d4_1)"/><rect x="277" y="78.8" width="1" height="138.6" fill="url(#d5_3)"/><rect x="278" y="78.1" width="1" height="139.3" fill="url(#d5_3)"/><rect x="279" y="79.3" width="1" height="138.1" fill="url(#d5_0)"/><rect x="280" y="78.5" width="1" height="138.9" fill="url(#d5_0)"/><rect x="281" y="78.4" width="1" height="139.0" fill="url(#d5_2)"/><rect x="282" y="77.1" width="1" height="140.3" fill="url(#d5_3)"/><rect x="283" y="77.5" width="1" height="139.9" fill="url(#d5_1)"/><rect x="284" y="78.7" width="1" height="138.7" fill="url(#d5_2)"/><rect x="285" y="78.0" width="1" height="139.4" fill="url(#d5_0)"/><rect x="286" y="79.6" width="1" height="137.8" fill="url(#d5_2)"/><rect x="287" y="79.5" width="1" height="137.9" fill="url(#d5_0)"/><rect x="288" y="76.1" width="1" height="141.3" fill="url(#d5_3)"/><rect x="289" y="79.6" width="1" height="137.8" fill="url(#d5_1)"/><rect x="290" y="75.2" width="1" height="142.2" fill="url(#d5_2)"/><rect x="291" y="77.7" width="1" height="139.7" fill="url(#d5_2)"/><rect x="292" y="79.3" width="1" height="138.1" fill="url(#d5_1)"/><rect x="293" y="78.1" width="1" height="139.3" fill="url(#d5_3)"/><rect x="294" y="78.3" width="1" height="139.1" fill="url(#d4_3)"/><rect x="295" y="89.5" width="1" height="127.9" fill="url(#d1_3)"/><rect x="296" y="92.2" width="1" height="125.2" fill="url(#d0_2)"/><rect x="297" y="91.2" width="1" height="126.2" fill="url(#d0_3)"/><rect x="298" y="91.5" width="1" height="125.9" fill="url(#d0_0)"/><rect x="299" y="93.8" width="1" height="123.6" fill="url(#d0_2)"/><rect x="300" y="91.4" width="1" height="126.0" fill="url(#d0_0)"/><rect x="301" y="92.2" width="1" height="125.2" fill="url(#d0_2)"/><rect x="302" y="93.7" width="1" height="123.7" fill="url(#d0_0)"/><rect x="303" y="93.6" width="1" height="123.8" fill="url(#d0_1)"/><rect x="304" y="91.9" width="1" height="125.5" fill="url(#d0_2)"/><rect x="305" y="91.8" width="1" height="125.6" fill="url(#d0_3)"/><rect x="306" y="93.8" width="1" height="123.6" fill="url(#d0_3)"/><rect x="307" y="93.8" width="1" height="123.6" fill="url(#d0_1)"/><rect x="308" y="91.6" width="1" height="125.8" fill="url(#d0_3)"/><rect x="309" y="91.1" width="1" height="126.3" fill="url(#d0_3)"/><rect x="310" y="91.3" width="1" height="126.1" fill="url(#d0_1)"/><rect x="311" y="91.7" width="1" height="125.7" fill="url(#d0_2)"/><rect x="312" y="92.1" width="1" height="125.3" fill="url(#d0_2)"/><rect x="313" y="89.5" width="1" height="127.9" fill="url(#d1_3)"/><rect x="314" y="81.2" width="1" height="136.2" fill="url(#d4_1)"/><rect x="315" y="77.2" width="1" height="140.2" fill="url(#d5_3)"/><rect x="316" y="78.3" width="1" height="139.1" fill="url(#d5_2)"/><rect x="317" y="79.6" width="1" height="137.8" fill="url(#d5_1)"/><rect x="318" y="78.3" width="1" height="139.1" fill="url(#d5_1)"/><rect x="319" y="76.6" width="1" height="140.8" fill="url(#d5_2)"/><rect x="320" y="79.0" width="1" height="138.4" fill="url(#d5_0)"/><rect x="321" y="78.9" width="1" height="138.5" fill="url(#d5_3)"/><rect x="322" y="78.9" width="1" height="138.5" fill="url(#d5_2)"/><rect x="323" y="76.5" width="1" height="140.9" fill="url(#d5_2)"/><rect x="324" y="77.1" width="1" height="140.3" fill="url(#d5_1)"/><rect x="325" y="77.0" width="1" height="140.4" fill="url(#d5_3)"/><rect x="326" y="77.9" width="1" height="139.5" fill="url(#d5_2)"/><rect x="327" y="79.2" width="1" height="138.2" fill="url(#d5_0)"/><rect x="328" y="77.1" width="1" height="140.3" fill="url(#d5_3)"/><rect x="329" y="79.5" width="1" height="137.9" fill="url(#d5_0)"/><rect x="330" y="77.8" width="1" height="139.6" fill="url(#d5_3)"/><rect x="331" y="79.5" width="1" height="137.9" fill="url(#d5_0)"/><rect x="332" y="75.4" width="1" height="142.0" fill="url(#d5_0)"/><rect x="333" y="88.1" width="1" height="129.3" fill="url(#d2_3)"/><rect x="334" y="91.4" width="1" height="126.0" fill="url(#d0_0)"/><rect x="335" y="93.5" width="1" height="123.9" fill="url(#d0_0)"/><rect x="336" y="93.1" width="1" height="124.3" fill="url(#d0_1)"/><rect x="337" y="93.0" width="1" height="124.4" fill="url(#d0_3)"/><rect x="338" y="92.3" width="1" height="125.1" fill="url(#d0_1)"/><rect x="339" y="92.3" width="1" height="125.1" fill="url(#d0_0)"/><rect x="340" y="91.2" width="1" height="126.2" fill="url(#d0_3)"/><rect x="341" y="92.0" width="1" height="125.4" fill="url(#d0_1)"/><rect x="342" y="92.6" width="1" height="124.8" fill="url(#d0_1)"/><rect x="343" y="91.3" width="1" height="126.1" fill="url(#d0_2)"/><rect x="344" y="91.4" width="1" height="126.0" fill="url(#d0_3)"/><rect x="345" y="91.4" width="1" height="126.0" fill="url(#d0_3)"/><rect x="346" y="93.9" width="1" height="123.5" fill="url(#d0_0)"/><rect x="347" y="93.2" width="1" height="124.2" fill="url(#d0_2)"/><rect x="348" y="93.2" width="1" height="124.2" fill="url(#d0_2)"/><rect x="349" y="93.3" width="1" height="124.1" fill="url(#d0_1)"/><rect x="350" y="92.6" width="1" height="124.8" fill="url(#d0_1)"/><rect x="351" y="91.9" width="1" height="125.5" fill="url(#d0_2)"/><rect x="352" y="82.8" width="1" height="134.6" fill="url(#d3_1)"/><rect x="353" y="79.3" width="1" height="138.1" fill="url(#d5_0)"/><rect x="354" y="78.2" width="1" height="139.2" fill="url(#d5_1)"/><rect x="355" y="76.8" width="1" height="140.6" fill="url(#d5_3)"/><rect x="356" y="75.6" width="1" height="141.8" fill="url(#d5_2)"/><rect x="357" y="78.8" width="1" height="138.6" fill="url(#d5_1)"/><rect x="358" y="77.7" width="1" height="139.7" fill="url(#d5_3)"/><rect x="359" y="76.8" width="1" height="140.6" fill="url(#d5_3)"/><rect x="360" y="79.1" width="1" height="138.3" fill="url(#d5_3)"/><rect x="361" y="76.1" width="1" height="141.3" fill="url(#d5_2)"/><rect x="362" y="77.9" width="1" height="139.5" fill="url(#d5_1)"/><rect x="363" y="77.8" width="1" height="139.6" fill="url(#d5_2)"/><rect x="364" y="79.1" width="1" height="138.3" fill="url(#d5_0)"/><rect x="365" y="78.7" width="1" height="138.7" fill="url(#d5_3)"/><rect x="366" y="77.3" width="1" height="140.1" fill="url(#d5_3)"/><rect x="367" y="76.8" width="1" height="140.6" fill="url(#d5_3)"/><rect x="368" y="75.9" width="1" height="141.5" fill="url(#d5_0)"/><rect x="369" y="77.4" width="1" height="140.0" fill="url(#d5_2)"/><rect x="370" y="77.8" width="1" height="139.6" fill="url(#d5_0)"/><rect x="371" y="83.3" width="1" height="134.1" fill="url(#d3_2)"/><rect x="372" y="93.9" width="1" height="123.5" fill="url(#d0_0)"/><rect x="373" y="91.3" width="1" height="126.1" fill="url(#d0_3)"/><rect x="374" y="93.3" width="1" height="124.1" fill="url(#d0_3)"/><rect x="375" y="93.5" width="1" height="123.9" fill="url(#d0_3)"/><rect x="376" y="91.6" width="1" height="125.8" fill="url(#d0_0)"/><rect x="377" y="93.5" width="1" height="123.9" fill="url(#d0_1)"/><rect x="378" y="93.0" width="1" height="124.4" fill="url(#d0_2)"/><rect x="379" y="92.5" width="1" height="124.9" fill="url(#d0_0)"/><rect x="380" y="92.7" width="1" height="124.7" fill="url(#d0_1)"/><rect x="381" y="91.1" width="1" height="126.3" fill="url(#d0_2)"/><rect x="382" y="91.7" width="1" height="125.7" fill="url(#d0_0)"/><rect x="383" y="94.1" width="1" height="123.3" fill="url(#d0_0)"/><rect x="384" y="91.8" width="1" height="125.6" fill="url(#d0_3)"/><rect x="385" y="90.3" width="1" height="127.1" fill="url(#d0_1)"/><rect x="386" y="93.4" width="1" height="124.0" fill="url(#d0_0)"/><rect x="387" y="93.5" width="1" height="123.9" fill="url(#d0_2)"/><rect x="388" y="92.8" width="1" height="124.6" fill="url(#d0_2)"/><rect x="389" y="91.8" width="1" height="125.6" fill="url(#d0_1)"/><rect x="390" y="86.1" width="1" height="131.3" fill="url(#d2_1)"/><rect x="391" y="77.6" width="1" height="139.8" fill="url(#d5_1)"/><rect x="392" y="78.2" width="1" height="139.2" fill="url(#d5_0)"/><rect x="393" y="78.6" width="1" height="138.8" fill="url(#d5_0)"/><rect x="394" y="76.7" width="1" height="140.7" fill="url(#d5_1)"/><rect x="395" y="79.1" width="1" height="138.3" fill="url(#d5_0)"/><rect x="396" y="79.2" width="1" height="138.2" fill="url(#d5_0)"/><rect x="397" y="77.2" width="1" height="140.2" fill="url(#d5_1)"/><rect x="398" y="79.4" width="1" height="138.0" fill="url(#d5_1)"/><rect x="399" y="78.0" width="1" height="139.4" fill="url(#d5_0)"/><rect x="400" y="77.0" width="1" height="140.4" fill="url(#d5_2)"/><rect x="401" y="77.3" width="1" height="140.1" fill="url(#d5_1)"/><rect x="402" y="76.8" width="1" height="140.6" fill="url(#d5_0)"/><rect x="403" y="78.4" width="1" height="139.0" fill="url(#d5_1)"/><rect x="404" y="79.1" width="1" height="138.3" fill="url(#d5_3)"/><rect x="405" y="78.7" width="1" height="138.7" fill="url(#d5_2)"/><rect x="406" y="75.5" width="1" height="141.9" fill="url(#d5_3)"/><rect x="407" y="75.6" width="1" height="141.8" fill="url(#d5_1)"/><rect x="408" y="77.6" width="1" height="139.8" fill="url(#d5_2)"/><rect x="409" y="80.8" width="1" height="136.6" fill="url(#d4_2)"/><rect x="410" y="87.8" width="1" height="129.6" fill="url(#d1_2)"/><rect x="411" y="90.7" width="1" height="126.7" fill="url(#d0_2)"/><rect x="412" y="93.1" width="1" height="124.3" fill="url(#d0_3)"/><rect x="413" y="89.9" width="1" height="127.5" fill="url(#d0_3)"/><rect x="414" y="90.0" width="1" height="127.4" fill="url(#d0_2)"/><rect x="415" y="91.7" width="1" height="125.7" fill="url(#d0_1)"/><rect x="416" y="93.1" width="1" height="124.3" fill="url(#d0_0)"/><rect x="417" y="92.9" width="1" height="124.5" fill="url(#d0_1)"/><rect x="418" y="91.6" width="1" height="125.8" fill="url(#d0_1)"/><rect x="419" y="92.5" width="1" height="124.9" fill="url(#d0_1)"/><rect x="420" y="92.1" width="1" height="125.3" fill="url(#d0_0)"/><rect x="421" y="94.0" width="1" height="123.4" fill="url(#d0_0)"/><rect x="422" y="93.0" width="1" height="124.4" fill="url(#d0_0)"/><rect x="423" y="93.8" width="1" height="123.6" fill="url(#d0_1)"/><rect x="424" y="93.1" width="1" height="124.3" fill="url(#d0_3)"/><rect x="425" y="93.0" width="1" height="124.4" fill="url(#d0_3)"/><rect x="426" y="91.7" width="1" height="125.7" fill="url(#d0_3)"/><rect x="427" y="92.7" width="1" height="124.7" fill="url(#d0_1)"/><rect x="428" y="89.0" width="1" height="128.4" fill="url(#d1_1)"/><rect x="429" y="79.7" width="1" height="137.7" fill="url(#d4_0)"/><rect x="430" y="78.6" width="1" height="138.8" fill="url(#d5_3)"/><rect x="431" y="78.4" width="1" height="139.0" fill="url(#d5_2)"/><rect x="432" y="78.6" width="1" height="138.8" fill="url(#d5_1)"/><rect x="433" y="77.9" width="1" height="139.5" fill="url(#d5_3)"/><rect x="434" y="77.4" width="1" height="140.0" fill="url(#d5_3)"/><rect x="435" y="78.0" width="1" height="139.4" fill="url(#d5_3)"/><rect x="436" y="79.1" width="1" height="138.3" fill="url(#d5_3)"/><rect x="437" y="75.7" width="1" height="141.7" fill="url(#d5_0)"/><rect x="438" y="79.0" width="1" height="138.4" fill="url(#d5_0)"/><rect x="439" y="74.9" width="1" height="142.5" fill="url(#d5_2)"/><rect x="440" y="79.0" width="1" height="138.4" fill="url(#d5_0)"/><rect x="441" y="78.9" width="1" height="138.5" fill="url(#d5_1)"/><rect x="442" y="75.2" width="1" height="142.2" fill="url(#d5_0)"/><rect x="443" y="77.3" width="1" height="140.1" fill="url(#d5_3)"/><rect x="444" y="77.5" width="1" height="139.9" fill="url(#d5_1)"/><rect x="445" y="78.7" width="1" height="138.7" fill="url(#d5_1)"/><rect x="446" y="76.9" width="1" height="140.5" fill="url(#d5_2)"/><rect x="447" y="77.2" width="1" height="140.2" fill="url(#d5_2)"/><rect x="448" y="88.0" width="1" height="129.4" fill="url(#d2_2)"/><rect x="449" y="92.7" width="1" height="124.7" fill="url(#d0_1)"/><rect x="450" y="92.9" width="1" height="124.5" fill="url(#d0_1)"/><rect x="451" y="91.1" width="1" height="126.3" fill="url(#d0_1)"/><rect x="452" y="93.0" width="1" height="124.4" fill="url(#d0_2)"/><rect x="453" y="92.1" width="1" height="125.3" fill="url(#d0_0)"/><rect x="454" y="91.6" width="1" height="125.8" fill="url(#d0_3)"/><rect x="455" y="92.8" width="1" height="124.6" fill="url(#d0_0)"/><rect x="456" y="91.9" width="1" height="125.5" fill="url(#d0_3)"/><rect x="457" y="93.3" width="1" height="124.1" fill="url(#d0_3)"/><rect x="458" y="94.1" width="1" height="123.3" fill="url(#d0_2)"/><rect x="459" y="91.1" width="1" height="126.3" fill="url(#d0_0)"/><rect x="460" y="92.1" width="1" height="125.3" fill="url(#d0_2)"/><rect x="461" y="93.1" width="1" height="124.3" fill="url(#d0_2)"/><rect x="462" y="93.3" width="1" height="124.1" fill="url(#d0_1)"/><rect x="463" y="91.6" width="1" height="125.8" fill="url(#d0_3)"/><rect x="464" y="92.4" width="1" height="125.0" fill="url(#d0_0)"/><rect x="465" y="91.6" width="1" height="125.8" fill="url(#d0_0)"/><rect x="466" y="87.1" width="1" height="130.3" fill="url(#d1_0)"/><rect x="467" y="84.0" width="1" height="133.4" fill="url(#d3_3)"/><rect x="468" y="78.4" width="1" height="139.0" fill="url(#d5_1)"/><rect x="469" y="77.8" width="1" height="139.6" fill="url(#d5_1)"/><rect x="470" y="77.1" width="1" height="140.3" fill="url(#d5_1)"/><rect x="471" y="78.8" width="1" height="138.6" fill="url(#d5_0)"/><rect x="472" y="78.6" width="1" height="138.8" fill="url(#d5_2)"/><rect x="473" y="77.9" width="1" height="139.5" fill="url(#d5_0)"/><rect x="474" y="76.9" width="1" height="140.5" fill="url(#d5_2)"/><rect x="475" y="78.4" width="1" height="139.0" fill="url(#d5_3)"/><rect x="476" y="77.4" width="1" height="140.0" fill="url(#d5_0)"/><rect x="477" y="75.9" width="1" height="141.5" fill="url(#d5_1)"/><rect x="478" y="76.9" width="1" height="140.5" fill="url(#d5_0)"/><rect x="479" y="78.5" width="1" height="138.9" fill="url(#d5_1)"/><rect x="480" y="77.1" width="1" height="140.3" fill="url(#d5_3)"/><rect x="481" y="77.9" width="1" height="139.5" fill="url(#d5_2)"/><rect x="482" y="78.5" width="1" height="138.9" fill="url(#d5_3)"/><rect x="483" y="77.0" width="1" height="140.4" fill="url(#d5_3)"/><rect x="484" y="76.9" width="1" height="140.5" fill="url(#d5_1)"/><rect x="485" y="76.3" width="1" height="141.1" fill="url(#d5_0)"/><rect x="486" y="82.9" width="1" height="134.5" fill="url(#d3_2)"/><rect x="487" y="93.3" width="1" height="124.1" fill="url(#d0_3)"/><rect x="488" y="93.2" width="1" height="124.2" fill="url(#d0_2)"/><rect x="489" y="92.1" width="1" height="125.3" fill="url(#d0_1)"/><rect x="490" y="91.4" width="1" height="126.0" fill="url(#d0_1)"/><rect x="491" y="92.0" width="1" height="125.4" fill="url(#d0_1)"/><rect x="492" y="93.9" width="1" height="123.5" fill="url(#d0_2)"/><rect x="493" y="91.8" width="1" height="125.6" fill="url(#d0_1)"/><rect x="494" y="92.3" width="1" height="125.1" fill="url(#d0_3)"/><rect x="495" y="92.6" width="1" height="124.8" fill="url(#d0_0)"/><rect x="496" y="93.7" width="1" height="123.7" fill="url(#d0_1)"/><rect x="497" y="92.9" width="1" height="124.5" fill="url(#d0_1)"/><rect x="498" y="92.3" width="1" height="125.1" fill="url(#d0_1)"/><rect x="499" y="90.7" width="1" height="126.7" fill="url(#d0_1)"/><rect x="500" y="91.4" width="1" height="126.0" fill="url(#d0_0)"/><rect x="501" y="91.6" width="1" height="125.8" fill="url(#d0_0)"/><rect x="502" y="93.2" width="1" height="124.2" fill="url(#d0_0)"/><rect x="503" y="93.7" width="1" height="123.7" fill="url(#d0_1)"/><rect x="504" y="93.6" width="1" height="123.8" fill="url(#d0_0)"/><rect x="505" y="88.0" width="1" height="129.4" fill="url(#d2_3)"/><rect x="506" y="77.0" width="1" height="140.4" fill="url(#d5_0)"/><rect x="507" y="76.8" width="1" height="140.6" fill="url(#d5_0)"/><rect x="508" y="79.1" width="1" height="138.3" fill="url(#d5_2)"/><rect x="509" y="76.3" width="1" height="141.1" fill="url(#d5_1)"/><rect x="510" y="77.6" width="1" height="139.8" fill="url(#d5_2)"/><rect x="511" y="76.8" width="1" height="140.6" fill="url(#d5_2)"/><rect x="512" y="76.8" width="1" height="140.6" fill="url(#d5_2)"/><rect x="513" y="78.9" width="1" height="138.5" fill="url(#d5_3)"/><rect x="514" y="79.2" width="1" height="138.2" fill="url(#d5_0)"/><rect x="515" y="77.6" width="1" height="139.8" fill="url(#d5_0)"/><rect x="516" y="77.7" width="1" height="139.7" fill="url(#d5_1)"/><rect x="517" y="78.8" width="1" height="138.6" fill="url(#d5_2)"/><rect x="518" y="76.2" width="1" height="141.2" fill="url(#d5_0)"/><rect x="519" y="76.7" width="1" height="140.7" fill="url(#d5_3)"/><rect x="520" y="78.7" width="1" height="138.7" fill="url(#d5_3)"/><rect x="521" y="78.4" width="1" height="139.0" fill="url(#d5_2)"/><rect x="522" y="76.6" width="1" height="140.8" fill="url(#d5_1)"/><rect x="523" y="76.6" width="1" height="140.8" fill="url(#d5_0)"/><rect x="524" y="83.9" width="1" height="133.5" fill="url(#d3_0)"/><rect x="525" y="90.1" width="1" height="127.3" fill="url(#d1_3)"/><rect x="526" y="93.9" width="1" height="123.5" fill="url(#d0_0)"/><rect x="527" y="92.4" width="1" height="125.0" fill="url(#d0_2)"/><rect x="528" y="91.8" width="1" height="125.6" fill="url(#d0_1)"/><rect x="529" y="92.3" width="1" height="125.1" fill="url(#d0_1)"/><rect x="530" y="92.4" width="1" height="125.0" fill="url(#d0_0)"/><rect x="531" y="92.2" width="1" height="125.2" fill="url(#d0_1)"/><rect x="532" y="93.7" width="1" height="123.7" fill="url(#d0_2)"/><rect x="533" y="91.7" width="1" height="125.7" fill="url(#d0_2)"/><rect x="534" y="91.5" width="1" height="125.9" fill="url(#d0_1)"/><rect x="535" y="92.7" width="1" height="124.7" fill="url(#d0_1)"/><rect x="536" y="93.3" width="1" height="124.1" fill="url(#d0_2)"/><rect x="537" y="92.9" width="1" height="124.5" fill="url(#d0_1)"/><rect x="538" y="92.2" width="1" height="125.2" fill="url(#d0_0)"/><rect x="539" y="91.7" width="1" height="125.7" fill="url(#d0_1)"/><rect x="540" y="92.3" width="1" height="125.1" fill="url(#d0_2)"/><rect x="541" y="93.3" width="1" height="124.1" fill="url(#d0_1)"/><rect x="542" y="91.5" width="1" height="125.9" fill="url(#d0_2)"/><rect x="543" y="86.0" width="1" height="131.4" fill="url(#d2_0)"/><rect x="544" y="79.6" width="1" height="137.8" fill="url(#d4_3)"/><rect x="545" y="78.7" width="1" height="138.7" fill="url(#d5_2)"/><rect x="546" y="76.5" width="1" height="140.9" fill="url(#d5_3)"/><rect x="547" y="76.7" width="1" height="140.7" fill="url(#d5_3)"/><rect x="548" y="78.7" width="1" height="138.7" fill="url(#d5_3)"/><rect x="549" y="79.2" width="1" height="138.2" fill="url(#d5_1)"/><rect x="550" y="78.7" width="1" height="138.7" fill="url(#d5_3)"/><rect x="551" y="78.0" width="1" height="139.4" fill="url(#d5_0)"/><rect x="552" y="79.3" width="1" height="138.1" fill="url(#d5_3)"/><rect x="553" y="78.8" width="1" height="138.6" fill="url(#d5_2)"/><rect x="554" y="79.2" width="1" height="138.2" fill="url(#d5_0)"/><rect x="555" y="87.2" width="1" height="130.2" fill="url(#d2_1)"/></g></g></g>
<g clip-path="url(#pc)"><g filter="url(#spk2)">
<path d="M192 217.4L192 143.7L193 143.7L193 143.0L194 143.0L194 142.5L195 142.5L195 143.2L196 143.2L196 143.2L197 143.2L197 142.2L198 142.2L198 142.3L199 142.3L199 141.9L200 141.9L200 142.1L201 142.1L201 142.1L202 142.1L202 141.1L203 141.1L203 140.9L204 140.9L204 141.1L205 141.1L205 140.5L206 140.5L206 139.9L207 139.9L207 139.9L208 139.9L208 139.2L209 139.2L209 139.7L210 139.7L210 139.0L211 139.0L211 138.6L212 138.6L212 138.8L213 138.8L213 138.1L214 138.1L214 138.1L215 138.1L215 136.8L216 136.8L216 136.6L217 136.6L217 136.5L218 136.5L218 135.8L219 135.8L219 135.2L220 135.2L220 134.7L221 134.7L221 133.9L222 133.9L222 133.5L223 133.5L223 132.7L224 132.7L224 131.9L225 131.9L225 131.7L226 131.7L226 130.4L227 130.4L227 129.5L228 129.5L228 128.4L229 128.4L229 126.9L230 126.9L230 126.1L231 126.1L231 125.2L232 125.2L232 124.1L233 124.1L233 121.4L234 121.4L234 118.8L235 118.8L235 116.0L236 116.0L236 111.3L237 111.3L237 103.2L238 103.2L238 217.4Z" fill="url(#side)"/>
<path d="M192 143.7L193 143.7L193 143.0L194 143.0L194 142.5L195 142.5L195 143.2L196 143.2L196 143.2L197 143.2L197 142.2L198 142.2L198 142.3L199 142.3L199 141.9L200 141.9L200 142.1L201 142.1L201 142.1L202 142.1L202 141.1L203 141.1L203 140.9L204 140.9L204 141.1L205 141.1L205 140.5L206 140.5L206 139.9L207 139.9L207 139.9L208 139.9L208 139.2L209 139.2L209 139.7L210 139.7L210 139.0L211 139.0L211 138.6L212 138.6L212 138.8L213 138.8L213 138.1L214 138.1L214 138.1L215 138.1L215 136.8L216 136.8L216 136.6L217 136.6L217 136.5L218 136.5L218 135.8L219 135.8L219 135.2L220 135.2L220 134.7L221 134.7L221 133.9L222 133.9L222 133.5L223 133.5L223 132.7L224 132.7L224 131.9L225 131.9L225 131.7L226 131.7L226 130.4L227 130.4L227 129.5L228 129.5L228 128.4L229 128.4L229 126.9L230 126.9L230 126.1L231 126.1L231 125.2L232 125.2L232 124.1L233 124.1L233 121.4L234 121.4L234 118.8L235 118.8L235 116.0L236 116.0L236 111.3L237 111.3L237 103.2L238 103.2L238 104.8L237 104.8L237 112.9L236 112.9L236 117.6L235 117.6L235 120.4L234 120.4L234 123.0L233 123.0L233 125.7L232 125.7L232 126.8L231 126.8L231 127.7L230 127.7L230 128.5L229 128.5L229 130.0L228 130.0L228 131.1L227 131.1L227 132.0L226 132.0L226 133.3L225 133.3L225 133.5L224 133.5L224 134.3L223 134.3L223 135.1L222 135.1L222 135.5L221 135.5L221 136.3L220 136.3L220 136.8L219 136.8L219 137.4L218 137.4L218 138.1L217 138.1L217 138.2L216 138.2L216 138.4L215 138.4L215 139.7L214 139.7L214 139.7L213 139.7L213 140.4L212 140.4L212 140.2L211 140.2L211 140.6L210 140.6L210 141.3L209 141.3L209 140.8L208 140.8L208 141.5L207 141.5L207 141.5L206 141.5L206 142.1L205 142.1L205 142.7L204 142.7L204 142.5L203 142.5L203 142.7L202 142.7L202 143.7L201 143.7L201 143.7L200 143.7L200 143.5L199 143.5L199 143.9L198 143.9L198 143.8L197 143.8L197 144.8L196 144.8L196 144.8L195 144.8L195 144.1L194 144.1L194 144.6L193 144.6L193 145.3L192 145.3Z" fill="#0848e0"/>
<path d="M192 145.3L193 145.3L193 144.6L194 144.6L194 144.1L195 144.1L195 144.8L196 144.8L196 144.8L197 144.8L197 143.8L198 143.8L198 143.9L199 143.9L199 143.5L200 143.5L200 143.7L201 143.7L201 143.7L202 143.7L202 142.7L203 142.7L203 142.5L204 142.5L204 142.7L205 142.7L205 142.1L206 142.1L206 141.5L207 141.5L207 141.5L208 141.5L208 140.8L209 140.8L209 141.3L210 141.3L210 140.6L211 140.6L211 140.2L212 140.2L212 140.4L213 140.4L213 139.7L214 139.7L214 139.7L215 139.7L215 138.4L216 138.4L216 138.2L217 138.2L217 138.1L218 138.1L218 137.4L219 137.4L219 136.8L220 136.8L220 136.3L221 136.3L221 135.5L222 135.5L222 135.1L223 135.1L223 134.3L224 134.3L224 133.5L225 133.5L225 133.3L226 133.3L226 132.0L227 132.0L227 131.1L228 131.1L228 130.0L229 130.0L229 128.5L230 128.5L230 127.7L231 127.7L231 126.8L232 126.8L232 125.7L233 125.7L233 123.0L234 123.0L234 120.4L235 120.4L235 117.6L236 117.6L236 112.9L237 112.9L237 104.8L238 104.8L238 106.4L237 106.4L237 114.5L236 114.5L236 119.2L235 119.2L235 122.0L234 122.0L234 124.6L233 124.6L233 127.3L232 127.3L232 128.4L231 128.4L231 129.3L230 129.3L230 130.1L229 130.1L229 131.6L228 131.6L228 132.7L227 132.7L227 133.6L226 133.6L226 134.9L225 134.9L225 135.1L224 135.1L224 135.9L223 135.9L223 136.7L222 136.7L222 137.1L221 137.1L221 137.9L220 137.9L220 138.4L219 138.4L219 139.0L218 139.0L218 139.7L217 139.7L217 139.8L216 139.8L216 140.0L215 140.0L215 141.3L214 141.3L214 141.3L213 141.3L213 142.0L212 142.0L212 141.8L211 141.8L211 142.2L210 142.2L210 142.9L209 142.9L209 142.4L208 142.4L208 143.1L207 143.1L207 143.1L206 143.1L206 143.7L205 143.7L205 144.3L204 144.3L204 144.1L203 144.1L203 144.3L202 144.3L202 145.3L201 145.3L201 145.3L200 145.3L200 145.1L199 145.1L199 145.5L198 145.5L198 145.4L197 145.4L197 146.4L196 146.4L196 146.4L195 146.4L195 145.7L194 145.7L194 146.2L193 146.2L193 146.9L192 146.9Z" fill="#1068f8"/>
<path d="M192 146.9L193 146.9L193 146.2L194 146.2L194 145.7L195 145.7L195 146.4L196 146.4L196 146.4L197 146.4L197 145.4L198 145.4L198 145.5L199 145.5L199 145.1L200 145.1L200 145.3L201 145.3L201 145.3L202 145.3L202 144.3L203 144.3L203 144.1L204 144.1L204 144.3L205 144.3L205 143.7L206 143.7L206 143.1L207 143.1L207 143.1L208 143.1L208 142.4L209 142.4L209 142.9L210 142.9L210 142.2L211 142.2L211 141.8L212 141.8L212 142.0L213 142.0L213 141.3L214 141.3L214 141.3L215 141.3L215 140.0L216 140.0L216 139.8L217 139.8L217 139.7L218 139.7L218 139.0L219 139.0L219 138.4L220 138.4L220 137.9L221 137.9L221 137.1L222 137.1L222 136.7L223 136.7L223 135.9L224 135.9L224 135.1L225 135.1L225 134.9L226 134.9L226 133.6L227 133.6L227 132.7L228 132.7L228 131.6L229 131.6L229 130.1L230 130.1L230 129.3L231 129.3L231 128.4L232 128.4L232 127.3L233 127.3L233 124.6L234 124.6L234 122.0L235 122.0L235 119.2L236 119.2L236 114.5L237 114.5L237 106.4L238 106.4L238 108.8L237 108.8L237 116.9L236 116.9L236 121.6L235 121.6L235 124.4L234 124.4L234 127.0L233 127.0L233 129.7L232 129.7L232 130.8L231 130.8L231 131.7L230 131.7L230 132.5L229 132.5L229 134.0L228 134.0L228 135.1L227 135.1L227 136.0L226 136.0L226 137.3L225 137.3L225 137.5L224 137.5L224 138.3L223 138.3L223 139.1L222 139.1L222 139.5L221 139.5L221 140.3L220 140.3L220 140.8L219 140.8L219 141.4L218 141.4L218 142.1L217 142.1L217 142.2L216 142.2L216 142.4L215 142.4L215 143.7L214 143.7L214 143.7L213 143.7L213 144.4L212 144.4L212 144.2L211 144.2L211 144.6L210 144.6L210 145.3L209 145.3L209 144.8L208 144.8L208 145.5L207 145.5L207 145.5L206 145.5L206 146.1L205 146.1L205 146.7L204 146.7L204 146.5L203 146.5L203 146.7L202 146.7L202 147.7L201 147.7L201 147.7L200 147.7L200 147.5L199 147.5L199 147.9L198 147.9L198 147.8L197 147.8L197 148.8L196 148.8L196 148.8L195 148.8L195 148.1L194 148.1L194 148.6L193 148.6L193 149.3L192 149.3Z" fill="#1c88ff"/>
<path d="M192 149.3L193 149.3L193 148.6L194 148.6L194 148.1L195 148.1L195 148.8L196 148.8L196 148.8L197 148.8L197 147.8L198 147.8L198 147.9L199 147.9L199 147.5L200 147.5L200 147.7L201 147.7L201 147.7L202 147.7L202 146.7L203 146.7L203 146.5L204 146.5L204 146.7L205 146.7L205 146.1L206 146.1L206 145.5L207 145.5L207 145.5L208 145.5L208 144.8L209 144.8L209 145.3L210 145.3L210 144.6L211 144.6L211 144.2L212 144.2L212 144.4L213 144.4L213 143.7L214 143.7L214 143.7L215 143.7L215 142.4L216 142.4L216 142.2L217 142.2L217 142.1L218 142.1L218 141.4L219 141.4L219 140.8L220 140.8L220 140.3L221 140.3L221 139.5L222 139.5L222 139.1L223 139.1L223 138.3L224 138.3L224 137.5L225 137.5L225 137.3L226 137.3L226 136.0L227 136.0L227 135.1L228 135.1L228 134.0L229 134.0L229 132.5L230 132.5L230 131.7L231 131.7L231 130.8L232 130.8L232 129.7L233 129.7L233 127.0L234 127.0L234 124.4L235 124.4L235 121.6L236 121.6L236 116.9L237 116.9L237 108.8L238 108.8L238 112.2L237 112.2L237 120.3L236 120.3L236 125.0L235 125.0L235 127.8L234 127.8L234 130.4L233 130.4L233 133.1L232 133.1L232 134.2L231 134.2L231 135.1L230 135.1L230 135.9L229 135.9L229 137.4L228 137.4L228 138.5L227 138.5L227 139.4L226 139.4L226 140.7L225 140.7L225 140.9L224 140.9L224 141.7L223 141.7L223 142.5L222 142.5L222 142.9L221 142.9L221 143.7L220 143.7L220 144.2L219 144.2L219 144.8L218 144.8L218 145.5L217 145.5L217 145.6L216 145.6L216 145.8L215 145.8L215 147.1L214 147.1L214 147.1L213 147.1L213 147.8L212 147.8L212 147.6L211 147.6L211 148.0L210 148.0L210 148.7L209 148.7L209 148.2L208 148.2L208 148.9L207 148.9L207 148.9L206 148.9L206 149.5L205 149.5L205 150.1L204 150.1L204 149.9L203 149.9L203 150.1L202 150.1L202 150.5L201 150.5L201 150.5L200 150.5L200 150.5L199 150.5L199 150.5L198 150.5L198 150.5L197 150.5L197 150.5L196 150.5L196 150.5L195 150.5L195 150.5L194 150.5L194 150.5L193 150.5L193 150.5L192 150.5Z" fill="#28a8ff"/>
<path d="M192 150.5L193 150.5L193 150.5L194 150.5L194 150.5L195 150.5L195 150.5L196 150.5L196 150.5L197 150.5L197 150.5L198 150.5L198 150.5L199 150.5L199 150.5L200 150.5L200 150.5L201 150.5L201 150.5L202 150.5L202 150.1L203 150.1L203 149.9L204 149.9L204 150.1L205 150.1L205 149.5L206 149.5L206 148.9L207 148.9L207 148.9L208 148.9L208 148.2L209 148.2L209 148.7L210 148.7L210 148.0L211 148.0L211 147.6L212 147.6L212 147.8L213 147.8L213 147.1L214 147.1L214 147.1L215 147.1L215 145.8L216 145.8L216 145.6L217 145.6L217 145.5L218 145.5L218 144.8L219 144.8L219 144.2L220 144.2L220 143.7L221 143.7L221 142.9L222 142.9L222 142.5L223 142.5L223 141.7L224 141.7L224 140.9L225 140.9L225 140.7L226 140.7L226 139.4L227 139.4L227 138.5L228 138.5L228 137.4L229 137.4L229 135.9L230 135.9L230 135.1L231 135.1L231 134.2L232 134.2L232 133.1L233 133.1L233 130.4L234 130.4L234 127.8L235 127.8L235 125.0L236 125.0L236 120.3L237 120.3L237 112.2L238 112.2L238 117.2L237 117.2L237 125.3L236 125.3L236 130.0L235 130.0L235 132.8L234 132.8L234 135.4L233 135.4L233 138.1L232 138.1L232 139.2L231 139.2L231 140.1L230 140.1L230 140.9L229 140.9L229 142.4L228 142.4L228 143.5L227 143.5L227 144.4L226 144.4L226 145.7L225 145.7L225 145.9L224 145.9L224 146.7L223 146.7L223 147.5L222 147.5L222 147.9L221 147.9L221 148.7L220 148.7L220 149.2L219 149.2L219 149.8L218 149.8L218 150.5L217 150.5L217 150.5L216 150.5L216 150.5L215 150.5L215 150.5L214 150.5L214 150.5L213 150.5L213 150.5L212 150.5L212 150.5L211 150.5L211 150.5L210 150.5L210 150.5L209 150.5L209 150.5L208 150.5L208 150.5L207 150.5L207 150.5L206 150.5L206 150.5L205 150.5L205 150.5L204 150.5L204 150.5L203 150.5L203 150.5L202 150.5L202 150.5L201 150.5L201 150.5L200 150.5L200 150.5L199 150.5L199 150.5L198 150.5L198 150.5L197 150.5L197 150.5L196 150.5L196 150.5L195 150.5L195 150.5L194 150.5L194 150.5L193 150.5L193 150.5L192 150.5Z" fill="#30c0ff"/>
<path d="M556 217.4L556 103.4L557 103.4L557 108.9L558 108.9L558 112.4L559 112.4L559 114.4L560 114.4L560 117.6L561 117.6L561 119.0L562 119.0L562 120.1L563 120.1L563 120.5L564 120.5L564 122.0L565 122.0L565 123.2L566 123.2L566 124.1L567 124.1L567 124.6L568 124.6L568 126.0L569 126.0L569 126.7L570 126.7L570 127.4L571 127.4L571 128.4L572 128.4L572 129.0L573 129.0L573 130.0L574 130.0L574 130.0L575 130.0L575 131.0L576 131.0L576 131.4L577 131.4L577 132.2L578 132.2L578 132.4L579 132.4L579 132.7L580 132.7L580 133.6L581 133.6L581 134.0L582 134.0L582 134.1L583 134.1L583 134.8L584 134.8L584 134.9L585 134.9L585 135.5L586 135.5L586 136.1L587 136.1L587 136.0L588 136.0L588 137.2L589 137.2L589 136.9L590 136.9L590 137.5L591 137.5L591 138.0L592 138.0L592 138.2L593 138.2L593 139.1L594 139.1L594 139.3L595 139.3L595 140.2L596 140.2L596 140.0L597 140.0L597 140.0L598 140.0L598 140.5L599 140.5L599 140.8L600 140.8L600 140.6L601 140.6L601 217.4Z" fill="url(#side)"/>
<path d="M556 103.4L557 103.4L557 108.9L558 108.9L558 112.4L559 112.4L559 114.4L560 114.4L560 117.6L561 117.6L561 119.0L562 119.0L562 120.1L563 120.1L563 120.5L564 120.5L564 122.0L565 122.0L565 123.2L566 123.2L566 124.1L567 124.1L567 124.6L568 124.6L568 126.0L569 126.0L569 126.7L570 126.7L570 127.4L571 127.4L571 128.4L572 128.4L572 129.0L573 129.0L573 130.0L574 130.0L574 130.0L575 130.0L575 131.0L576 131.0L576 131.4L577 131.4L577 132.2L578 132.2L578 132.4L579 132.4L579 132.7L580 132.7L580 133.6L581 133.6L581 134.0L582 134.0L582 134.1L583 134.1L583 134.8L584 134.8L584 134.9L585 134.9L585 135.5L586 135.5L586 136.1L587 136.1L587 136.0L588 136.0L588 137.2L589 137.2L589 136.9L590 136.9L590 137.5L591 137.5L591 138.0L592 138.0L592 138.2L593 138.2L593 139.1L594 139.1L594 139.3L595 139.3L595 140.2L596 140.2L596 140.0L597 140.0L597 140.0L598 140.0L598 140.5L599 140.5L599 140.8L600 140.8L600 140.6L601 140.6L601 142.2L600 142.2L600 142.4L599 142.4L599 142.1L598 142.1L598 141.6L597 141.6L597 141.6L596 141.6L596 141.8L595 141.8L595 140.9L594 140.9L594 140.7L593 140.7L593 139.8L592 139.8L592 139.6L591 139.6L591 139.1L590 139.1L590 138.5L589 138.5L589 138.8L588 138.8L588 137.6L587 137.6L587 137.7L586 137.7L586 137.1L585 137.1L585 136.5L584 136.5L584 136.4L583 136.4L583 135.7L582 135.7L582 135.6L581 135.6L581 135.2L580 135.2L580 134.3L579 134.3L579 134.0L578 134.0L578 133.8L577 133.8L577 133.0L576 133.0L576 132.6L575 132.6L575 131.6L574 131.6L574 131.6L573 131.6L573 130.6L572 130.6L572 130.0L571 130.0L571 129.0L570 129.0L570 128.3L569 128.3L569 127.6L568 127.6L568 126.2L567 126.2L567 125.7L566 125.7L566 124.8L565 124.8L565 123.6L564 123.6L564 122.1L563 122.1L563 121.7L562 121.7L562 120.6L561 120.6L561 119.2L560 119.2L560 116.0L559 116.0L559 114.0L558 114.0L558 110.5L557 110.5L557 105.0L556 105.0Z" fill="#0848e0"/>
<path d="M556 105.0L557 105.0L557 110.5L558 110.5L558 114.0L559 114.0L559 116.0L560 116.0L560 119.2L561 119.2L561 120.6L562 120.6L562 121.7L563 121.7L563 122.1L564 122.1L564 123.6L565 123.6L565 124.8L566 124.8L566 125.7L567 125.7L567 126.2L568 126.2L568 127.6L569 127.6L569 128.3L570 128.3L570 129.0L571 129.0L571 130.0L572 130.0L572 130.6L573 130.6L573 131.6L574 131.6L574 131.6L575 131.6L575 132.6L576 132.6L576 133.0L577 133.0L577 133.8L578 133.8L578 134.0L579 134.0L579 134.3L580 134.3L580 135.2L581 135.2L581 135.6L582 135.6L582 135.7L583 135.7L583 136.4L584 136.4L584 136.5L585 136.5L585 137.1L586 137.1L586 137.7L587 137.7L587 137.6L588 137.6L588 138.8L589 138.8L589 138.5L590 138.5L590 139.1L591 139.1L591 139.6L592 139.6L592 139.8L593 139.8L593 140.7L594 140.7L594 140.9L595 140.9L595 141.8L596 141.8L596 141.6L597 141.6L597 141.6L598 141.6L598 142.1L599 142.1L599 142.4L600 142.4L600 142.2L601 142.2L601 143.8L600 143.8L600 144.0L599 144.0L599 143.7L598 143.7L598 143.2L597 143.2L597 143.2L596 143.2L596 143.4L595 143.4L595 142.5L594 142.5L594 142.3L593 142.3L593 141.4L592 141.4L592 141.2L591 141.2L591 140.7L590 140.7L590 140.1L589 140.1L589 140.4L588 140.4L588 139.2L587 139.2L587 139.3L586 139.3L586 138.7L585 138.7L585 138.1L584 138.1L584 138.0L583 138.0L583 137.3L582 137.3L582 137.2L581 137.2L581 136.8L580 136.8L580 135.9L579 135.9L579 135.6L578 135.6L578 135.4L577 135.4L577 134.6L576 134.6L576 134.2L575 134.2L575 133.2L574 133.2L574 133.2L573 133.2L573 132.2L572 132.2L572 131.6L571 131.6L571 130.6L570 130.6L570 129.9L569 129.9L569 129.2L568 129.2L568 127.8L567 127.8L567 127.3L566 127.3L566 126.4L565 126.4L565 125.2L564 125.2L564 123.7L563 123.7L563 123.3L562 123.3L562 122.2L561 122.2L561 120.8L560 120.8L560 117.6L559 117.6L559 115.6L558 115.6L558 112.1L557 112.1L557 106.6L556 106.6Z" fill="#1068f8"/>
<path d="M556 106.6L557 106.6L557 112.1L558 112.1L558 115.6L559 115.6L559 117.6L560 117.6L560 120.8L561 120.8L561 122.2L562 122.2L562 123.3L563 123.3L563 123.7L564 123.7L564 125.2L565 125.2L565 126.4L566 126.4L566 127.3L567 127.3L567 127.8L568 127.8L568 129.2L569 129.2L569 129.9L570 129.9L570 130.6L571 130.6L571 131.6L572 131.6L572 132.2L573 132.2L573 133.2L574 133.2L574 133.2L575 133.2L575 134.2L576 134.2L576 134.6L577 134.6L577 135.4L578 135.4L578 135.6L579 135.6L579 135.9L580 135.9L580 136.8L581 136.8L581 137.2L582 137.2L582 137.3L583 137.3L583 138.0L584 138.0L584 138.1L585 138.1L585 138.7L586 138.7L586 139.3L587 139.3L587 139.2L588 139.2L588 140.4L589 140.4L589 140.1L590 140.1L590 140.7L591 140.7L591 141.2L592 141.2L592 141.4L593 141.4L593 142.3L594 142.3L594 142.5L595 142.5L595 143.4L596 143.4L596 143.2L597 143.2L597 143.2L598 143.2L598 143.7L599 143.7L599 144.0L600 144.0L600 143.8L601 143.8L601 146.2L600 146.2L600 146.4L599 146.4L599 146.1L598 146.1L598 145.6L597 145.6L597 145.6L596 145.6L596 145.8L595 145.8L595 144.9L594 144.9L594 144.7L593 144.7L593 143.8L592 143.8L592 143.6L591 143.6L591 143.1L590 143.1L590 142.5L589 142.5L589 142.8L588 142.8L588 141.6L587 141.6L587 141.7L586 141.7L586 141.1L585 141.1L585 140.5L584 140.5L584 140.4L583 140.4L583 139.7L582 139.7L582 139.6L581 139.6L581 139.2L580 139.2L580 138.3L579 138.3L579 138.0L578 138.0L578 137.8L577 137.8L577 137.0L576 137.0L576 136.6L575 136.6L575 135.6L574 135.6L574 135.6L573 135.6L573 134.6L572 134.6L572 134.0L571 134.0L571 133.0L570 133.0L570 132.3L569 132.3L569 131.6L568 131.6L568 130.2L567 130.2L567 129.7L566 129.7L566 128.8L565 128.8L565 127.6L564 127.6L564 126.1L563 126.1L563 125.7L562 125.7L562 124.6L561 124.6L561 123.2L560 123.2L560 120.0L559 120.0L559 118.0L558 118.0L558 114.5L557 114.5L557 109.0L556 109.0Z" fill="#1c88ff"/>
<path d="M556 109.0L557 109.0L557 114.5L558 114.5L558 118.0L559 118.0L559 120.0L560 120.0L560 123.2L561 123.2L561 124.6L562 124.6L562 125.7L563 125.7L563 126.1L564 126.1L564 127.6L565 127.6L565 128.8L566 128.8L566 129.7L567 129.7L567 130.2L568 130.2L568 131.6L569 131.6L569 132.3L570 132.3L570 133.0L571 133.0L571 134.0L572 134.0L572 134.6L573 134.6L573 135.6L574 135.6L574 135.6L575 135.6L575 136.6L576 136.6L576 137.0L577 137.0L577 137.8L578 137.8L578 138.0L579 138.0L579 138.3L580 138.3L580 139.2L581 139.2L581 139.6L582 139.6L582 139.7L583 139.7L583 140.4L584 140.4L584 140.5L585 140.5L585 141.1L586 141.1L586 141.7L587 141.7L587 141.6L588 141.6L588 142.8L589 142.8L589 142.5L590 142.5L590 143.1L591 143.1L591 143.6L592 143.6L592 143.8L593 143.8L593 144.7L594 144.7L594 144.9L595 144.9L595 145.8L596 145.8L596 145.6L597 145.6L597 145.6L598 145.6L598 146.1L599 146.1L599 146.4L600 146.4L600 146.2L601 146.2L601 149.6L600 149.6L600 149.8L599 149.8L599 149.5L598 149.5L598 149.0L597 149.0L597 149.0L596 149.0L596 149.2L595 149.2L595 148.3L594 148.3L594 148.1L593 148.1L593 147.2L592 147.2L592 147.0L591 147.0L591 146.5L590 146.5L590 145.9L589 145.9L589 146.2L588 146.2L588 145.0L587 145.0L587 145.1L586 145.1L586 144.5L585 144.5L585 143.9L584 143.9L584 143.8L583 143.8L583 143.1L582 143.1L582 143.0L581 143.0L581 142.6L580 142.6L580 141.7L579 141.7L579 141.4L578 141.4L578 141.2L577 141.2L577 140.4L576 140.4L576 140.0L575 140.0L575 139.0L574 139.0L574 139.0L573 139.0L573 138.0L572 138.0L572 137.4L571 137.4L571 136.4L570 136.4L570 135.7L569 135.7L569 135.0L568 135.0L568 133.6L567 133.6L567 133.1L566 133.1L566 132.2L565 132.2L565 131.0L564 131.0L564 129.5L563 129.5L563 129.1L562 129.1L562 128.0L561 128.0L561 126.6L560 126.6L560 123.4L559 123.4L559 121.4L558 121.4L558 117.9L557 117.9L557 112.4L556 112.4Z" fill="#28a8ff"/>
<path d="M556 112.4L557 112.4L557 117.9L558 117.9L558 121.4L559 121.4L559 123.4L560 123.4L560 126.6L561 126.6L561 128.0L562 128.0L562 129.1L563 129.1L563 129.5L564 129.5L564 131.0L565 131.0L565 132.2L566 132.2L566 133.1L567 133.1L567 133.6L568 133.6L568 135.0L569 135.0L569 135.7L570 135.7L570 136.4L571 136.4L571 137.4L572 137.4L572 138.0L573 138.0L573 139.0L574 139.0L574 139.0L575 139.0L575 140.0L576 140.0L576 140.4L577 140.4L577 141.2L578 141.2L578 141.4L579 141.4L579 141.7L580 141.7L580 142.6L581 142.6L581 143.0L582 143.0L582 143.1L583 143.1L583 143.8L584 143.8L584 143.9L585 143.9L585 144.5L586 144.5L586 145.1L587 145.1L587 145.0L588 145.0L588 146.2L589 146.2L589 145.9L590 145.9L590 146.5L591 146.5L591 147.0L592 147.0L592 147.2L593 147.2L593 148.1L594 148.1L594 148.3L595 148.3L595 149.2L596 149.2L596 149.0L597 149.0L597 149.0L598 149.0L598 149.5L599 149.5L599 149.8L600 149.8L600 149.6L601 149.6L601 150.5L600 150.5L600 150.5L599 150.5L599 150.5L598 150.5L598 150.5L597 150.5L597 150.5L596 150.5L596 150.5L595 150.5L595 150.5L594 150.5L594 150.5L593 150.5L593 150.5L592 150.5L592 150.5L591 150.5L591 150.5L590 150.5L590 150.5L589 150.5L589 150.5L588 150.5L588 150.0L587 150.0L587 150.1L586 150.1L586 149.5L585 149.5L585 148.9L584 148.9L584 148.8L583 148.8L583 148.1L582 148.1L582 148.0L581 148.0L581 147.6L580 147.6L580 146.7L579 146.7L579 146.4L578 146.4L578 146.2L577 146.2L577 145.4L576 145.4L576 145.0L575 145.0L575 144.0L574 144.0L574 144.0L573 144.0L573 143.0L572 143.0L572 142.4L571 142.4L571 141.4L570 141.4L570 140.7L569 140.7L569 140.0L568 140.0L568 138.6L567 138.6L567 138.1L566 138.1L566 137.2L565 137.2L565 136.0L564 136.0L564 134.5L563 134.5L563 134.1L562 134.1L562 133.0L561 133.0L561 131.6L560 131.6L560 128.4L559 128.4L559 126.4L558 126.4L558 122.9L557 122.9L557 117.4L556 117.4Z" fill="#30c0ff"/>
</g></g>
<rect x="395.6" y="148" width="1.9" height="63" fill="#1868e8"/>
<rect x="396" y="122" width="1.2" height="28" fill="#8aa088" opacity="0.85"/>
<line x1="396.6" y1="196" x2="396.6" y2="211" stroke="#283040" stroke-width="1" stroke-dasharray="1.5 1.5"/>
<text x="203.9" y="50.9" font-size="10.2" fill="#c4c4c4" stroke="#c4c4c4" stroke-width="0.1" text-anchor="start" font-weight="normal" textLength="29.8" lengthAdjust="spacingAndGlyphs">Density</text>
<rect x="596.3" y="37.0" width="7.2" height="174.4" fill="url(#cbar)"/>
<rect x="189.7" y="214.8" width="7.3" height="175.0" fill="url(#cbar)"/>
<rect x="197" y="214.8" width="41.5" height="175.0" fill="url(#sgl)"/>
<rect x="555.5" y="214.8" width="40.5" height="175.0" fill="url(#sgr)"/>
<g shape-rendering="crispEdges"><rect x="238" y="214.8" width="1" height="175.0" fill="#eaff00"/><rect x="239" y="214.8" width="1" height="175.0" fill="#f8ff00"/><rect x="240" y="214.8" width="1" height="175.0" fill="#ffff00"/><rect x="241" y="214.8" width="1" height="175.0" fill="#fffb00"/><rect x="242" y="214.8" width="1" height="175.0" fill="#fdfa00"/><rect x="243" y="214.8" width="1" height="175.0" fill="#fff500"/><rect x="244" y="214.8" width="1" height="175.0" fill="#ffff00"/><rect x="245" y="214.8" width="1" height="175.0" fill="#ffff00"/><rect x="246" y="214.8" width="1" height="175.0" fill="#fcff00"/><rect x="247" y="214.8" width="1" height="175.0" fill="#ffff00"/><rect x="248" y="214.8" width="1" height="175.0" fill="#feff00"/><rect x="249" y="214.8" width="1" height="175.0" fill="#ffff00"/><rect x="250" y="214.8" width="1" height="175.0" fill="#fcfb00"/><rect x="251" y="214.8" width="1" height="175.0" fill="#ffff00"/><rect x="252" y="214.8" width="1" height="175.0" fill="#ffff00"/><rect x="253" y="214.8" width="1" height="175.0" fill="#fcf400"/><rect x="254" y="214.8" width="1" height="175.0" fill="#faff00"/><rect x="255" y="214.8" width="1" height="175.0" fill="#f3ff00"/><rect x="256" y="214.8" width="1" height="175.0" fill="#e5ff00"/><rect x="257" y="214.8" width="1" height="175.0" fill="#afff00"/><rect x="258" y="214.8" width="1" height="175.0" fill="#a4ff00"/><rect x="259" y="214.8" width="1" height="175.0" fill="#a4ff00"/><rect x="260" y="214.8" width="1" height="175.0" fill="#a9ff00"/><rect x="261" y="214.8" width="1" height="175.0" fill="#a6ff00"/><rect x="262" y="214.8" width="1" height="175.0" fill="#a2ff00"/><rect x="263" y="214.8" width="1" height="175.0" fill="#a3ff00"/><rect x="264" y="214.8" width="1" height="175.0" fill="#a6ff00"/><rect x="265" y="214.8" width="1" height="175.0" fill="#a0ff00"/><rect x="266" y="214.8" width="1" height="175.0" fill="#a0ff00"/><rect x="267" y="214.8" width="1" height="175.0" fill="#a7ff00"/><rect x="268" y="214.8" width="1" height="175.0" fill="#a9ff00"/><rect x="269" y="214.8" width="1" height="175.0" fill="#a7ff00"/><rect x="270" y="214.8" width="1" height="175.0" fill="#a1ff00"/><rect x="271" y="214.8" width="1" height="175.0" fill="#a4ff00"/><rect x="272" y="214.8" width="1" height="175.0" fill="#a7ff00"/><rect x="273" y="214.8" width="1" height="175.0" fill="#a1ff00"/><rect x="274" y="214.8" width="1" height="175.0" fill="#a2ff00"/><rect x="275" y="214.8" width="1" height="175.0" fill="#b9ff00"/><rect x="276" y="214.8" width="1" height="175.0" fill="#e7ff00"/><rect x="277" y="214.8" width="1" height="175.0" fill="#f2ff00"/><rect x="278" y="214.8" width="1" height="175.0" fill="#ffff00"/><rect x="279" y="214.8" width="1" height="175.0" fill="#ffff00"/><rect x="280" y="214.8" width="1" height="175.0" fill="#ffff00"/><rect x="281" y="214.8" width="1" height="175.0" fill="#fdff00"/><rect x="282" y="214.8" width="1" height="175.0" fill="#faff00"/><rect x="283" y="214.8" width="1" height="175.0" fill="#fdff00"/><rect x="284" y="214.8" width="1" height="175.0" fill="#fdff00"/><rect x="285" y="214.8" width="1" height="175.0" fill="#ffff00"/><rect x="286" y="214.8" width="1" height="175.0" fill="#fcff00"/><rect x="287" y="214.8" width="1" height="175.0" fill="#fbf800"/><rect x="288" y="214.8" width="1" height="175.0" fill="#fbff00"/><rect x="289" y="214.8" width="1" height="175.0" fill="#fbff00"/><rect x="290" y="214.8" width="1" height="175.0" fill="#feff00"/><rect x="291" y="214.8" width="1" height="175.0" fill="#feff00"/><rect x="292" y="214.8" width="1" height="175.0" fill="#fef400"/><rect x="293" y="214.8" width="1" height="175.0" fill="#f2ff00"/><rect x="294" y="214.8" width="1" height="175.0" fill="#edff00"/><rect x="295" y="214.8" width="1" height="175.0" fill="#b9ff00"/><rect x="296" y="214.8" width="1" height="175.0" fill="#a6ff00"/><rect x="297" y="214.8" width="1" height="175.0" fill="#a7ff00"/><rect x="298" y="214.8" width="1" height="175.0" fill="#a8ff00"/><rect x="299" y="214.8" width="1" height="175.0" fill="#a6ff00"/><rect x="300" y="214.8" width="1" height="175.0" fill="#a6ff00"/><rect x="301" y="214.8" width="1" height="175.0" fill="#a6ff00"/><rect x="302" y="214.8" width="1" height="175.0" fill="#a6ff00"/><rect x="303" y="214.8" width="1" height="175.0" fill="#a5ff00"/><rect x="304" y="214.8" width="1" height="175.0" fill="#a6ff00"/><rect x="305" y="214.8" width="1" height="175.0" fill="#a2ff00"/><rect x="306" y="214.8" width="1" height="175.0" fill="#a6ff00"/><rect x="307" y="214.8" width="1" height="175.0" fill="#a4ff00"/><rect x="308" y="214.8" width="1" height="175.0" fill="#a7ff00"/><rect x="309" y="214.8" width="1" height="175.0" fill="#a1ff00"/><rect x="310" y="214.8" width="1" height="175.0" fill="#a2ff00"/><rect x="311" y="214.8" width="1" height="175.0" fill="#a0ff00"/><rect x="312" y="214.8" width="1" height="175.0" fill="#a7ff00"/><rect x="313" y="214.8" width="1" height="175.0" fill="#b7ff00"/><rect x="314" y="214.8" width="1" height="175.0" fill="#e8ff00"/><rect x="315" y="214.8" width="1" height="175.0" fill="#f1ff00"/><rect x="316" y="214.8" width="1" height="175.0" fill="#ffff00"/><rect x="317" y="214.8" width="1" height="175.0" fill="#ffff00"/><rect x="318" y="214.8" width="1" height="175.0" fill="#fdff00"/><rect x="319" y="214.8" width="1" height="175.0" fill="#fdff00"/><rect x="320" y="214.8" width="1" height="175.0" fill="#ffff00"/><rect x="321" y="214.8" width="1" height="175.0" fill="#faff00"/><rect x="322" y="214.8" width="1" height="175.0" fill="#fafa00"/><rect x="323" y="214.8" width="1" height="175.0" fill="#ffff00"/><rect x="324" y="214.8" width="1" height="175.0" fill="#fefa00"/><rect x="325" y="214.8" width="1" height="175.0" fill="#ffff00"/><rect x="326" y="214.8" width="1" height="175.0" fill="#fffa00"/><rect x="327" y="214.8" width="1" height="175.0" fill="#fffb00"/><rect x="328" y="214.8" width="1" height="175.0" fill="#fcf400"/><rect x="329" y="214.8" width="1" height="175.0" fill="#fef500"/><rect x="330" y="214.8" width="1" height="175.0" fill="#ffff00"/><rect x="331" y="214.8" width="1" height="175.0" fill="#f6ff00"/><rect x="332" y="214.8" width="1" height="175.0" fill="#e9ff00"/><rect x="333" y="214.8" width="1" height="175.0" fill="#bfff00"/><rect x="334" y="214.8" width="1" height="175.0" fill="#a5ff00"/><rect x="335" y="214.8" width="1" height="175.0" fill="#a5ff00"/><rect x="336" y="214.8" width="1" height="175.0" fill="#a4ff00"/><rect x="337" y="214.8" width="1" height="175.0" fill="#a7ff00"/><rect x="338" y="214.8" width="1" height="175.0" fill="#a8ff00"/><rect x="339" y="214.8" width="1" height="175.0" fill="#a3ff00"/><rect x="340" y="214.8" width="1" height="175.0" fill="#a7ff00"/><rect x="341" y="214.8" width="1" height="175.0" fill="#a6ff00"/><rect x="342" y="214.8" width="1" height="175.0" fill="#a1ff00"/><rect x="343" y="214.8" width="1" height="175.0" fill="#a7ff00"/><rect x="344" y="214.8" width="1" height="175.0" fill="#a3ff00"/><rect x="345" y="214.8" width="1" height="175.0" fill="#a5ff00"/><rect x="346" y="214.8" width="1" height="175.0" fill="#a4ff00"/><rect x="347" y="214.8" width="1" height="175.0" fill="#a6ff00"/><rect x="348" y="214.8" width="1" height="175.0" fill="#a8ff00"/><rect x="349" y="214.8" width="1" height="175.0" fill="#a8ff00"/><rect x="350" y="214.8" width="1" height="175.0" fill="#a0ff00"/><rect x="351" y="214.8" width="1" height="175.0" fill="#a7ff00"/><rect x="352" y="214.8" width="1" height="175.0" fill="#dfff00"/><rect x="353" y="214.8" width="1" height="175.0" fill="#f2ff00"/><rect x="354" y="214.8" width="1" height="175.0" fill="#fdff00"/><rect x="355" y="214.8" width="1" height="175.0" fill="#feff00"/><rect x="356" y="214.8" width="1" height="175.0" fill="#ffff00"/><rect x="357" y="214.8" width="1" height="175.0" fill="#ffff00"/><rect x="358" y="214.8" width="1" height="175.0" fill="#fdff00"/><rect x="359" y="214.8" width="1" height="175.0" fill="#ffff00"/><rect x="360" y="214.8" width="1" height="175.0" fill="#fbff00"/><rect x="361" y="214.8" width="1" height="175.0" fill="#fbff00"/><rect x="362" y="214.8" width="1" height="175.0" fill="#fbff00"/><rect x="363" y="214.8" width="1" height="175.0" fill="#feff00"/><rect x="364" y="214.8" width="1" height="175.0" fill="#feff00"/><rect x="365" y="214.8" width="1" height="175.0" fill="#ffff00"/><rect x="366" y="214.8" width="1" height="175.0" fill="#fdff00"/><rect x="367" y="214.8" width="1" height="175.0" fill="#ffff00"/><rect x="368" y="214.8" width="1" height="175.0" fill="#ffff00"/><rect x="369" y="214.8" width="1" height="175.0" fill="#fef600"/><rect x="370" y="214.8" width="1" height="175.0" fill="#f1ff00"/><rect x="371" y="214.8" width="1" height="175.0" fill="#e2ff00"/><rect x="372" y="214.8" width="1" height="175.0" fill="#adff00"/><rect x="373" y="214.8" width="1" height="175.0" fill="#a8ff00"/><rect x="374" y="214.8" width="1" height="175.0" fill="#a3ff00"/><rect x="375" y="214.8" width="1" height="175.0" fill="#a6ff00"/><rect x="376" y="214.8" width="1" height="175.0" fill="#a5ff00"/><rect x="377" y="214.8" width="1" height="175.0" fill="#a8ff00"/><rect x="378" y="214.8" width="1" height="175.0" fill="#a7ff00"/><rect x="379" y="214.8" width="1" height="175.0" fill="#a3ff00"/><rect x="380" y="214.8" width="1" height="175.0" fill="#a0ff00"/><rect x="381" y="214.8" width="1" height="175.0" fill="#a2ff00"/><rect x="382" y="214.8" width="1" height="175.0" fill="#a4ff00"/><rect x="383" y="214.8" width="1" height="175.0" fill="#a5ff00"/><rect x="384" y="214.8" width="1" height="175.0" fill="#a7ff00"/><rect x="385" y="214.8" width="1" height="175.0" fill="#a8ff00"/><rect x="386" y="214.8" width="1" height="175.0" fill="#a0ff00"/><rect x="387" y="214.8" width="1" height="175.0" fill="#a7ff00"/><rect x="388" y="214.8" width="1" height="175.0" fill="#a7ff00"/><rect x="389" y="214.8" width="1" height="175.0" fill="#a8ff00"/><rect x="390" y="214.8" width="1" height="175.0" fill="#bdff00"/><rect x="391" y="214.8" width="1" height="175.0" fill="#e9ff00"/><rect x="392" y="214.8" width="1" height="175.0" fill="#faff00"/><rect x="393" y="214.8" width="1" height="175.0" fill="#ffff00"/><rect x="394" y="214.8" width="1" height="175.0" fill="#fdfc00"/><rect x="395" y="214.8" width="1" height="175.0" fill="#feff00"/><rect x="396" y="214.8" width="1" height="175.0" fill="#ffff00"/><rect x="397" y="214.8" width="1" height="175.0" fill="#ffff00"/><rect x="398" y="214.8" width="1" height="175.0" fill="#fbff00"/><rect x="399" y="214.8" width="1" height="175.0" fill="#ffff00"/><rect x="400" y="214.8" width="1" height="175.0" fill="#fffa00"/><rect x="401" y="214.8" width="1" height="175.0" fill="#fef900"/><rect x="402" y="214.8" width="1" height="175.0" fill="#ffff00"/><rect x="403" y="214.8" width="1" height="175.0" fill="#ffff00"/><rect x="404" y="214.8" width="1" height="175.0" fill="#ffff00"/><rect x="405" y="214.8" width="1" height="175.0" fill="#feff00"/><rect x="406" y="214.8" width="1" height="175.0" fill="#fcf600"/><rect x="407" y="214.8" width="1" height="175.0" fill="#ffff00"/><rect x="408" y="214.8" width="1" height="175.0" fill="#f4ff00"/><rect x="409" y="214.8" width="1" height="175.0" fill="#e6ff00"/><rect x="410" y="214.8" width="1" height="175.0" fill="#b8ff00"/><rect x="411" y="214.8" width="1" height="175.0" fill="#a8ff00"/><rect x="412" y="214.8" width="1" height="175.0" fill="#a2ff00"/><rect x="413" y="214.8" width="1" height="175.0" fill="#a8ff00"/><rect x="414" y="214.8" width="1" height="175.0" fill="#a4ff00"/><rect x="415" y="214.8" width="1" height="175.0" fill="#a8ff00"/><rect x="416" y="214.8" width="1" height="175.0" fill="#a3ff00"/><rect x="417" y="214.8" width="1" height="175.0" fill="#a4ff00"/><rect x="418" y="214.8" width="1" height="175.0" fill="#a1ff00"/><rect x="419" y="214.8" width="1" height="175.0" fill="#a3ff00"/><rect x="420" y="214.8" width="1" height="175.0" fill="#a0ff00"/><rect x="421" y="214.8" width="1" height="175.0" fill="#a3ff00"/><rect x="422" y="214.8" width="1" height="175.0" fill="#a5ff00"/><rect x="423" y="214.8" width="1" height="175.0" fill="#a1ff00"/><rect x="424" y="214.8" width="1" height="175.0" fill="#a2ff00"/><rect x="425" y="214.8" width="1" height="175.0" fill="#a8ff00"/><rect x="426" y="214.8" width="1" height="175.0" fill="#a5ff00"/><rect x="427" y="214.8" width="1" height="175.0" fill="#a5ff00"/><rect x="428" y="214.8" width="1" height="175.0" fill="#b3ff00"/><rect x="429" y="214.8" width="1" height="175.0" fill="#ecff00"/><rect x="430" y="214.8" width="1" height="175.0" fill="#f2ff00"/><rect x="431" y="214.8" width="1" height="175.0" fill="#fbff00"/><rect x="432" y="214.8" width="1" height="175.0" fill="#ffff00"/><rect x="433" y="214.8" width="1" height="175.0" fill="#fbff00"/><rect x="434" y="214.8" width="1" height="175.0" fill="#fdff00"/><rect x="435" y="214.8" width="1" height="175.0" fill="#fdf400"/><rect x="436" y="214.8" width="1" height="175.0" fill="#ffff00"/><rect x="437" y="214.8" width="1" height="175.0" fill="#feff00"/><rect x="438" y="214.8" width="1" height="175.0" fill="#fffa00"/><rect x="439" y="214.8" width="1" height="175.0" fill="#ffff00"/><rect x="440" y="214.8" width="1" height="175.0" fill="#fbff00"/><rect x="441" y="214.8" width="1" height="175.0" fill="#fcfc00"/><rect x="442" y="214.8" width="1" height="175.0" fill="#feff00"/><rect x="443" y="214.8" width="1" height="175.0" fill="#fbff00"/><rect x="444" y="214.8" width="1" height="175.0" fill="#ffff00"/><rect x="445" y="214.8" width="1" height="175.0" fill="#faff00"/><rect x="446" y="214.8" width="1" height="175.0" fill="#f6ff00"/><rect x="447" y="214.8" width="1" height="175.0" fill="#efff00"/><rect x="448" y="214.8" width="1" height="175.0" fill="#c0ff00"/><rect x="449" y="214.8" width="1" height="175.0" fill="#a8ff00"/><rect x="450" y="214.8" width="1" height="175.0" fill="#a0ff00"/><rect x="451" y="214.8" width="1" height="175.0" fill="#a7ff00"/><rect x="452" y="214.8" width="1" height="175.0" fill="#a6ff00"/><rect x="453" y="214.8" width="1" height="175.0" fill="#a6ff00"/><rect x="454" y="214.8" width="1" height="175.0" fill="#a9ff00"/><rect x="455" y="214.8" width="1" height="175.0" fill="#a1ff00"/><rect x="456" y="214.8" width="1" height="175.0" fill="#a1ff00"/><rect x="457" y="214.8" width="1" height="175.0" fill="#a7ff00"/><rect x="458" y="214.8" width="1" height="175.0" fill="#a8ff00"/><rect x="459" y="214.8" width="1" height="175.0" fill="#a6ff00"/><rect x="460" y="214.8" width="1" height="175.0" fill="#a3ff00"/><rect x="461" y="214.8" width="1" height="175.0" fill="#a5ff00"/><rect x="462" y="214.8" width="1" height="175.0" fill="#a7ff00"/><rect x="463" y="214.8" width="1" height="175.0" fill="#a1ff00"/><rect x="464" y="214.8" width="1" height="175.0" fill="#a3ff00"/><rect x="465" y="214.8" width="1" height="175.0" fill="#a2ff00"/><rect x="466" y="214.8" width="1" height="175.0" fill="#abff00"/><rect x="467" y="214.8" width="1" height="175.0" fill="#e4ff00"/><rect x="468" y="214.8" width="1" height="175.0" fill="#edff00"/><rect x="469" y="214.8" width="1" height="175.0" fill="#faff00"/><rect x="470" y="214.8" width="1" height="175.0" fill="#fbff00"/><rect x="471" y="214.8" width="1" height="175.0" fill="#faff00"/><rect x="472" y="214.8" width="1" height="175.0" fill="#fcf700"/><rect x="473" y="214.8" width="1" height="175.0" fill="#fbff00"/><rect x="474" y="214.8" width="1" height="175.0" fill="#fdff00"/><rect x="475" y="214.8" width="1" height="175.0" fill="#ffff00"/><rect x="476" y="214.8" width="1" height="175.0" fill="#ffff00"/><rect x="477" y="214.8" width="1" height="175.0" fill="#faf900"/><rect x="478" y="214.8" width="1" height="175.0" fill="#fdff00"/><rect x="479" y="214.8" width="1" height="175.0" fill="#fbff00"/><rect x="480" y="214.8" width="1" height="175.0" fill="#fdff00"/><rect x="481" y="214.8" width="1" height="175.0" fill="#fcff00"/><rect x="482" y="214.8" width="1" height="175.0" fill="#ffff00"/><rect x="483" y="214.8" width="1" height="175.0" fill="#fbff00"/><rect x="484" y="214.8" width="1" height="175.0" fill="#f9ff00"/><rect x="485" y="214.8" width="1" height="175.0" fill="#ebff00"/><rect x="486" y="214.8" width="1" height="175.0" fill="#e4ff00"/><rect x="487" y="214.8" width="1" height="175.0" fill="#aaff00"/><rect x="488" y="214.8" width="1" height="175.0" fill="#a7ff00"/><rect x="489" y="214.8" width="1" height="175.0" fill="#a2ff00"/><rect x="490" y="214.8" width="1" height="175.0" fill="#a1ff00"/><rect x="491" y="214.8" width="1" height="175.0" fill="#a4ff00"/><rect x="492" y="214.8" width="1" height="175.0" fill="#a4ff00"/><rect x="493" y="214.8" width="1" height="175.0" fill="#a1ff00"/><rect x="494" y="214.8" width="1" height="175.0" fill="#a5ff00"/><rect x="495" y="214.8" width="1" height="175.0" fill="#a6ff00"/><rect x="496" y="214.8" width="1" height="175.0" fill="#a7ff00"/><rect x="497" y="214.8" width="1" height="175.0" fill="#a8ff00"/><rect x="498" y="214.8" width="1" height="175.0" fill="#a5ff00"/><rect x="499" y="214.8" width="1" height="175.0" fill="#a8ff00"/><rect x="500" y="214.8" width="1" height="175.0" fill="#a1ff00"/><rect x="501" y="214.8" width="1" height="175.0" fill="#a7ff00"/><rect x="502" y="214.8" width="1" height="175.0" fill="#a9ff00"/><rect x="503" y="214.8" width="1" height="175.0" fill="#a4ff00"/><rect x="504" y="214.8" width="1" height="175.0" fill="#a5ff00"/><rect x="505" y="214.8" width="1" height="175.0" fill="#bdff00"/><rect x="506" y="214.8" width="1" height="175.0" fill="#eaff00"/><rect x="507" y="214.8" width="1" height="175.0" fill="#f8ff00"/><rect x="508" y="214.8" width="1" height="175.0" fill="#fef800"/><rect x="509" y="214.8" width="1" height="175.0" fill="#fbff00"/><rect x="510" y="214.8" width="1" height="175.0" fill="#feff00"/><rect x="511" y="214.8" width="1" height="175.0" fill="#ffff00"/><rect x="512" y="214.8" width="1" height="175.0" fill="#ffff00"/><rect x="513" y="214.8" width="1" height="175.0" fill="#fdff00"/><rect x="514" y="214.8" width="1" height="175.0" fill="#faff00"/><rect x="515" y="214.8" width="1" height="175.0" fill="#fcf600"/><rect x="516" y="214.8" width="1" height="175.0" fill="#ffff00"/><rect x="517" y="214.8" width="1" height="175.0" fill="#fcff00"/><rect x="518" y="214.8" width="1" height="175.0" fill="#ffff00"/><rect x="519" y="214.8" width="1" height="175.0" fill="#ffff00"/><rect x="520" y="214.8" width="1" height="175.0" fill="#fcf700"/><rect x="521" y="214.8" width="1" height="175.0" fill="#ffff00"/><rect x="522" y="214.8" width="1" height="175.0" fill="#fbff00"/><rect x="523" y="214.8" width="1" height="175.0" fill="#f2ff00"/><rect x="524" y="214.8" width="1" height="175.0" fill="#e8ff00"/><rect x="525" y="214.8" width="1" height="175.0" fill="#afff00"/><rect x="526" y="214.8" width="1" height="175.0" fill="#a7ff00"/><rect x="527" y="214.8" width="1" height="175.0" fill="#a3ff00"/><rect x="528" y="214.8" width="1" height="175.0" fill="#a8ff00"/><rect x="529" y="214.8" width="1" height="175.0" fill="#a8ff00"/><rect x="530" y="214.8" width="1" height="175.0" fill="#a4ff00"/><rect x="531" y="214.8" width="1" height="175.0" fill="#a0ff00"/><rect x="532" y="214.8" width="1" height="175.0" fill="#a8ff00"/><rect x="533" y="214.8" width="1" height="175.0" fill="#a4ff00"/><rect x="534" y="214.8" width="1" height="175.0" fill="#a8ff00"/><rect x="535" y="214.8" width="1" height="175.0" fill="#a2ff00"/><rect x="536" y="214.8" width="1" height="175.0" fill="#a2ff00"/><rect x="537" y="214.8" width="1" height="175.0" fill="#a7ff00"/><rect x="538" y="214.8" width="1" height="175.0" fill="#a3ff00"/><rect x="539" y="214.8" width="1" height="175.0" fill="#a1ff00"/><rect x="540" y="214.8" width="1" height="175.0" fill="#a3ff00"/><rect x="541" y="214.8" width="1" height="175.0" fill="#a5ff00"/><rect x="542" y="214.8" width="1" height="175.0" fill="#a0ff00"/><rect x="543" y="214.8" width="1" height="175.0" fill="#b8ff00"/><rect x="544" y="214.8" width="1" height="175.0" fill="#e8ff00"/><rect x="545" y="214.8" width="1" height="175.0" fill="#f5ff00"/><rect x="546" y="214.8" width="1" height="175.0" fill="#fbff00"/><rect x="547" y="214.8" width="1" height="175.0" fill="#ffff00"/><rect x="548" y="214.8" width="1" height="175.0" fill="#fdff00"/><rect x="549" y="214.8" width="1" height="175.0" fill="#fdff00"/><rect x="550" y="214.8" width="1" height="175.0" fill="#fbff00"/><rect x="551" y="214.8" width="1" height="175.0" fill="#ffff00"/><rect x="552" y="214.8" width="1" height="175.0" fill="#ffff00"/><rect x="553" y="214.8" width="1" height="175.0" fill="#f9ff00"/><rect x="554" y="214.8" width="1" height="175.0" fill="#e8ff00"/><rect x="555" y="214.8" width="1" height="175.0" fill="#c3ff00"/></g>
<text x="204.0" y="229.0" font-size="10.2" fill="#d8ffd0" stroke="#d8ffd0" stroke-width="0" text-anchor="start" font-weight="normal" textLength="51.0" lengthAdjust="spacingAndGlyphs" opacity="0.8">Spectrogram</text>
<rect x="212" y="236.7" width="82.7" height="33" fill="#262626" fill-opacity="0.44"/>
<text x="213.3" y="245.8" font-size="9.9" fill="#e4ecdc" stroke="#e4ecdc" stroke-width="0.1" text-anchor="start" font-weight="normal" textLength="31.4" lengthAdjust="spacingAndGlyphs">13.05 s</text>
<text x="213.3" y="257.0" font-size="9.9" fill="#e4ecdc" stroke="#e4ecdc" stroke-width="0.1" text-anchor="start" font-weight="normal" textLength="15.5" lengthAdjust="spacingAndGlyphs">435</text>
<text x="213.3" y="268.0" font-size="9.9" fill="#e4ecdc" stroke="#e4ecdc" stroke-width="0.1" text-anchor="start" font-weight="normal" textLength="42.5" lengthAdjust="spacingAndGlyphs">186 ~ 435</text>
<text x="526.7" y="387.6" font-size="9.5" fill="#d8e800" stroke="#d8e800" stroke-width="0.3" text-anchor="start" font-weight="normal" textLength="56.2" lengthAdjust="spacingAndGlyphs" opacity="0.8">Display Trc 1</text>
<line x1="556" y1="389.3" x2="596" y2="389.3" stroke="#e0e800" stroke-width="1" stroke-dasharray="4 3"/>
<line x1="212" y1="389.3" x2="236" y2="389.3" stroke="#e0e800" stroke-width="1" stroke-dasharray="4 3"/>
<text x="195.7" y="44.2" font-size="7" fill="#c8c8c8" stroke="#c8c8c8" stroke-width="0.3" text-anchor="end" font-weight="normal" textLength="11.0" lengthAdjust="spacingAndGlyphs">Log</text>
<text x="195.7" y="57.3" font-size="7.2" fill="#d0d0d0" stroke="#d0d0d0" stroke-width="0.3" text-anchor="end" font-weight="normal" textLength="10.0" lengthAdjust="spacingAndGlyphs">-10</text>
<text x="195.7" y="74.7" font-size="7.2" fill="#d0d0d0" stroke="#d0d0d0" stroke-width="0.3" text-anchor="end" font-weight="normal" textLength="10.0" lengthAdjust="spacingAndGlyphs">-20</text>
<text x="195.7" y="92.1" font-size="7.2" fill="#d0d0d0" stroke="#d0d0d0" stroke-width="0.3" text-anchor="end" font-weight="normal" textLength="10.0" lengthAdjust="spacingAndGlyphs">-30</text>
<text x="195.7" y="109.5" font-size="7.2" fill="#d0d0d0" stroke="#d0d0d0" stroke-width="0.3" text-anchor="end" font-weight="normal" textLength="10.0" lengthAdjust="spacingAndGlyphs">-40</text>
<text x="195.7" y="126.9" font-size="7.2" fill="#d0d0d0" stroke="#d0d0d0" stroke-width="0.3" text-anchor="end" font-weight="normal" textLength="10.0" lengthAdjust="spacingAndGlyphs">-50</text>
<text x="195.7" y="144.3" font-size="7.2" fill="#d0d0d0" stroke="#d0d0d0" stroke-width="0.3" text-anchor="end" font-weight="normal" textLength="10.0" lengthAdjust="spacingAndGlyphs">-60</text>
<text x="195.7" y="161.7" font-size="7.2" fill="#d0d0d0" stroke="#d0d0d0" stroke-width="0.3" text-anchor="end" font-weight="normal" textLength="10.0" lengthAdjust="spacingAndGlyphs">-70</text>
<text x="195.7" y="179.1" font-size="7.2" fill="#d0d0d0" stroke="#d0d0d0" stroke-width="0.3" text-anchor="end" font-weight="normal" textLength="10.0" lengthAdjust="spacingAndGlyphs">-80</text>
<text x="195.7" y="196.5" font-size="7.2" fill="#d0d0d0" stroke="#d0d0d0" stroke-width="0.3" text-anchor="end" font-weight="normal" textLength="10.0" lengthAdjust="spacingAndGlyphs">-90</text>
<text x="141.7" y="32.0" font-size="9.8" fill="#00bfc8" stroke="#00bfc8" stroke-width="0.3" text-anchor="start" font-weight="normal" textLength="25.7" lengthAdjust="spacingAndGlyphs">RTSA</text>
<text x="141.8" y="60.8" font-size="9.8" fill="#e6e6e6" stroke="#e6e6e6" stroke-width="0.3" text-anchor="start" font-weight="normal" textLength="18.4" lengthAdjust="spacingAndGlyphs">Cont</text>
<text x="141.8" y="81.7" font-size="9.8" fill="#e6e6e6" stroke="#e6e6e6" stroke-width="0.3" text-anchor="start" font-weight="normal" textLength="25.5" lengthAdjust="spacingAndGlyphs">Pause</text>
<text x="141.8" y="92.0" font-size="9.8" fill="#171717" stroke="#171717" stroke-width="0" text-anchor="start" font-weight="normal" textLength="11.0" lengthAdjust="spacingAndGlyphs">PA</text>
<text x="141.8" y="124.5" font-size="9.8" fill="#e6e6e6" stroke="#e6e6e6" stroke-width="0.3" text-anchor="start" font-weight="normal" textLength="17.9" lengthAdjust="spacingAndGlyphs">Free</text>
<text x="141.8" y="134.7" font-size="9.8" fill="#e6e6e6" stroke="#e6e6e6" stroke-width="0.3" text-anchor="start" font-weight="normal" textLength="14.2" lengthAdjust="spacingAndGlyphs">INF</text>
<text x="141.4" y="177.8" font-size="9.8" fill="#e6e6e6" stroke="#e6e6e6" stroke-width="0.3" text-anchor="start" font-weight="normal" textLength="29.9" lengthAdjust="spacingAndGlyphs">Density</text>
<text x="142.0" y="188.0" font-size="9.8" fill="#111111" stroke="#111111" stroke-width="0" text-anchor="start" font-weight="normal">1</text>
<text x="153.0" y="188.0" font-size="9.8" fill="#111111" stroke="#111111" stroke-width="0" text-anchor="start" font-weight="normal">W</text>
<text x="168.0" y="188.0" font-size="9.8" fill="#111111" stroke="#111111" stroke-width="0" text-anchor="start" font-weight="normal">P</text>
<text x="142.0" y="198.4" font-size="9.8" fill="#111111" stroke="#111111" stroke-width="0" text-anchor="start" font-weight="normal">2</text>
<text x="153.0" y="198.4" font-size="9.8" fill="#111111" stroke="#111111" stroke-width="0" text-anchor="start" font-weight="normal">W</text>
<text x="168.0" y="198.4" font-size="9.8" fill="#111111" stroke="#111111" stroke-width="0" text-anchor="start" font-weight="normal">P</text>
<text x="142.0" y="208.5" font-size="9.8" fill="#111111" stroke="#111111" stroke-width="0" text-anchor="start" font-weight="normal">3</text>
<text x="153.0" y="208.5" font-size="9.8" fill="#111111" stroke="#111111" stroke-width="0" text-anchor="start" font-weight="normal">W</text>
<text x="168.0" y="208.5" font-size="9.8" fill="#111111" stroke="#111111" stroke-width="0" text-anchor="start" font-weight="normal">P</text>
<text x="141.4" y="226.0" font-size="9.8" fill="#e6e6e6" stroke="#e6e6e6" stroke-width="0.3" text-anchor="start" font-weight="normal" textLength="26.6" lengthAdjust="spacingAndGlyphs">Spectr</text>
<text x="142.0" y="237.2" font-size="9.8" fill="#d2be00" stroke="#d2be00" stroke-width="0.12" text-anchor="start" font-weight="normal">1</text>
<text x="153.0" y="237.2" font-size="9.8" fill="#d2be00" stroke="#d2be00" stroke-width="0.12" text-anchor="start" font-weight="normal" textLength="10.8" lengthAdjust="spacingAndGlyphs">On</text>
<text x="170.3" y="237.2" font-size="9.8" fill="#d2be00" stroke="#d2be00" stroke-width="0.12" text-anchor="start" font-weight="normal" textLength="4.9" lengthAdjust="spacingAndGlyphs">P</text>
<text x="142.0" y="248.0" font-size="9.8" fill="#111111" stroke="#111111" stroke-width="0" text-anchor="start" font-weight="normal">2</text>
<text x="153.0" y="248.0" font-size="9.8" fill="#111111" stroke="#111111" stroke-width="0" text-anchor="start" font-weight="normal" textLength="10.8" lengthAdjust="spacingAndGlyphs">On</text>
<text x="170.3" y="248.0" font-size="9.8" fill="#111111" stroke="#111111" stroke-width="0" text-anchor="start" font-weight="normal">P</text>
<text x="200.7" y="32.7" font-size="9.8" fill="#e6e6e6" stroke="#e6e6e6" stroke-width="0.3" text-anchor="start" font-weight="normal" textLength="13.3" lengthAdjust="spacingAndGlyphs">Ref</text>
<text x="221.0" y="32.7" font-size="9.8" fill="#e6e6e6" stroke="#e6e6e6" stroke-width="0.3" text-anchor="start" font-weight="normal" textLength="26.0" lengthAdjust="spacingAndGlyphs">0 dBm</text>
<text x="279.5" y="32.7" font-size="9.8" fill="#e6e6e6" stroke="#e6e6e6" stroke-width="0.3" text-anchor="start" font-weight="normal" textLength="21.5" lengthAdjust="spacingAndGlyphs">Atten</text>
<text x="309.5" y="32.7" font-size="9.8" fill="#e6e6e6" stroke="#e6e6e6" stroke-width="0.3" text-anchor="start" font-weight="normal" textLength="23.5" lengthAdjust="spacingAndGlyphs">20 dB</text>
<text x="179.7" y="403.3" font-size="9.8" fill="#e6e6e6" stroke="#e6e6e6" stroke-width="0.3" text-anchor="start" font-weight="normal" textLength="17.8" lengthAdjust="spacingAndGlyphs">Start</text>
<text x="205.0" y="403.3" font-size="9.8" fill="#e6e6e6" stroke="#e6e6e6" stroke-width="0.3" text-anchor="start" font-weight="normal" textLength="37.5" lengthAdjust="spacingAndGlyphs">3.37 GHz</text>
<text x="179.7" y="414.2" font-size="9.8" fill="#e6e6e6" stroke="#e6e6e6" stroke-width="0.3" text-anchor="start" font-weight="normal" textLength="20.0" lengthAdjust="spacingAndGlyphs">RBW</text>
<text x="207.0" y="414.2" font-size="9.8" fill="#e6e6e6" stroke="#e6e6e6" stroke-width="0.3" text-anchor="start" font-weight="normal" textLength="50.0" lengthAdjust="spacingAndGlyphs">150.834 kHz</text>
<text x="371.3" y="403.1" font-size="9.8" fill="#e6e6e6" stroke="#e6e6e6" stroke-width="0.3" text-anchor="start" font-weight="normal" textLength="25.8" lengthAdjust="spacingAndGlyphs">Center</text>
<text x="404.0" y="403.1" font-size="9.8" fill="#e6e6e6" stroke="#e6e6e6" stroke-width="0.3" text-anchor="start" font-weight="normal" textLength="32.2" lengthAdjust="spacingAndGlyphs">3.4 GHz</text>
<text x="371.3" y="413.9" font-size="9.8" fill="#e6e6e6" stroke="#e6e6e6" stroke-width="0.3" text-anchor="start" font-weight="normal" textLength="20.6" lengthAdjust="spacingAndGlyphs">Span</text>
<text x="397.9" y="413.9" font-size="9.8" fill="#e6e6e6" stroke="#e6e6e6" stroke-width="0.3" text-anchor="start" font-weight="normal" textLength="30.6" lengthAdjust="spacingAndGlyphs">60 MHz</text>
<text x="540.6" y="403.8" font-size="9.8" fill="#e6e6e6" stroke="#e6e6e6" stroke-width="0.3" text-anchor="start" font-weight="normal" textLength="18.0" lengthAdjust="spacingAndGlyphs">Stop</text>
<text x="564.5" y="403.8" font-size="9.8" fill="#e6e6e6" stroke="#e6e6e6" stroke-width="0.3" text-anchor="start" font-weight="normal" textLength="38.4" lengthAdjust="spacingAndGlyphs">3.43 GHz</text>
<text x="533.3" y="415.2" font-size="9.8" fill="#e6e6e6" stroke="#e6e6e6" stroke-width="0.3" text-anchor="start" font-weight="normal" textLength="39.5" lengthAdjust="spacingAndGlyphs">Acq Time</text>
<text x="578.5" y="415.2" font-size="9.8" fill="#e6e6e6" stroke="#e6e6e6" stroke-width="0.3" text-anchor="start" font-weight="normal" textLength="24.4" lengthAdjust="spacingAndGlyphs">30 ms</text>
<text x="144.3" y="12.1" font-size="11.7" font-weight="bold" fill="#969696" textLength="57" lengthAdjust="spacingAndGlyphs">SIGLENT</text>
<g fill="#1478d0"><rect x="216" y="3" width="4.9" height="4.2" rx="0.6"/><path d="M217.6 7h1.8l-0.9 1.6z"/><rect x="214.3" y="7.3" width="3.2" height="1.6"/><rect x="219.8" y="7.3" width="3.2" height="1.6"/><rect x="213.5" y="8.6" width="4.8" height="5.2" rx="0.6"/><rect x="219.1" y="8.6" width="4.9" height="5.2" rx="0.6"/></g>
<g fill="#0c1a2c"><circle cx="218.45" cy="5" r="0.85"/><circle cx="215.9" cy="11.4" r="0.95"/><circle cx="221.55" cy="11.4" r="0.95"/></g>
<g fill="#2f8c3c" stroke="none"><rect x="234.7" y="1.9" width="1.5" height="3.4"/><rect x="238.5" y="1.9" width="1.5" height="3.4"/><path d="M232.8 4.4h9.2v2.2a3.4 3.4 0 0 1-3.4 3.4h-2.4a3.4 3.4 0 0 1-3.4-3.4z"/></g><path d="M237.4 9.5v4.1h2.6" fill="none" stroke="#2f8c3c" stroke-width="1.4"/>
<rect x="249.4" y="3.9" width="16.4" height="9" rx="1" fill="none" stroke="#767676" stroke-width="1"/><rect x="266" y="6" width="2.6" height="5.2" fill="#8a8a8a"/>
<rect x="251.3" y="5.5" width="1.9" height="6" fill="#30a030"/>
<rect x="253.9" y="5.5" width="1.9" height="6" fill="#30a030"/>
<rect x="256.5" y="5.5" width="1.9" height="6" fill="#30a030"/>
<rect x="259.1" y="5.5" width="1.9" height="6" fill="#30a030"/>
<rect x="261.7" y="5.5" width="1.9" height="6" fill="#30a030"/>
<text x="271.0" y="11.9" font-size="8.8" fill="#8c8c8c" stroke="#8c8c8c" stroke-width="0.3" text-anchor="start" font-weight="bold" textLength="20.7" lengthAdjust="spacingAndGlyphs">100%</text>
<rect x="605.3" y="0" width="94.7" height="420" fill="url(#mp)"/>
<rect x="605.3" y="225" width="94.7" height="48" fill="#12292b"/>
<rect x="605.3" y="27.6" width="94.7" height="1.8" fill="#030a10"/>
<rect x="605.3" y="76.6" width="94.7" height="1.8" fill="#030a10"/>
<rect x="605.3" y="125.6" width="94.7" height="1.8" fill="#030a10"/>
<rect x="605.3" y="174.6" width="94.7" height="1.8" fill="#030a10"/>
<rect x="605.3" y="223.6" width="94.7" height="1.8" fill="#030a10"/>
<rect x="605.3" y="272.6" width="94.7" height="1.8" fill="#030a10"/>
<rect x="605.3" y="321.6" width="94.7" height="1.8" fill="#030a10"/>
<rect x="605.3" y="370.6" width="94.7" height="1.8" fill="#030a10"/>
<rect x="615.2" y="8.7" width="2.4" height="2.2" fill="#1a6eb4"/>
<rect x="615.2" y="12.9" width="2.4" height="2.2" fill="#1a6eb4"/>
<rect x="615.2" y="16.9" width="2.4" height="2.2" fill="#1a6eb4"/>
<text x="641.7" y="17.4" font-size="10.7" fill="#e8e8e8" stroke="#e8e8e8" stroke-width="0.3" text-anchor="start" font-weight="normal" textLength="25.0" lengthAdjust="spacingAndGlyphs">Meas</text>
<text x="611.7" y="49.7" font-size="10.7" fill="#e8e8e8" stroke="#e8e8e8" stroke-width="0.3" text-anchor="start" font-weight="normal" textLength="82.2" lengthAdjust="spacingAndGlyphs">Avg|Hold Number</text>
<text x="646.1" y="71.8" font-size="9.2" fill="#e8e8e8" stroke="#e8e8e8" stroke-width="0.3" text-anchor="start" font-weight="normal" textLength="13.7" lengthAdjust="spacingAndGlyphs">100</text>
<text x="612.8" y="98.8" font-size="10.7" fill="#56626c" stroke="#56626c" stroke-width="0.3" text-anchor="start" font-weight="normal" textLength="81.3" lengthAdjust="spacingAndGlyphs">Finite Persistence</text>
<text x="646.1" y="120.7" font-size="9.2" fill="#56626c" stroke="#56626c" stroke-width="0.3" text-anchor="start" font-weight="normal" textLength="11.8" lengthAdjust="spacingAndGlyphs">0 s</text>
<text x="625.5" y="147.9" font-size="10.7" fill="#e8e8e8" stroke="#e8e8e8" stroke-width="0.3" text-anchor="start" font-weight="normal" textLength="54.3" lengthAdjust="spacingAndGlyphs">Persistence</text>
<text x="625.0" y="169.8" font-size="9.2" fill="#e8e8e8" stroke="#e8e8e8" stroke-width="0.3" text-anchor="start" font-weight="normal" textLength="27.2" lengthAdjust="spacingAndGlyphs">Infinite</text>
<rect x="625" y="171.2" width="27.2" height="1" fill="#b0b8c0"/>
<text x="658.9" y="169.8" font-size="9.2" fill="#7c8892" stroke="#7c8892" stroke-width="0.3" text-anchor="start" font-weight="normal" textLength="21.9" lengthAdjust="spacingAndGlyphs">Finite</text>
<text x="624.2" y="197.0" font-size="10.7" fill="#e8e8e8" stroke="#e8e8e8" stroke-width="0.3" text-anchor="start" font-weight="normal" textLength="56.6" lengthAdjust="spacingAndGlyphs">Select Trace</text>
<text x="628.4" y="219.0" font-size="9.2" fill="#e8e8e8" stroke="#e8e8e8" stroke-width="0.3" text-anchor="start" font-weight="normal" textLength="43.8" lengthAdjust="spacingAndGlyphs">Dens Trc 1</text>
<path d="M690.7 214.5h5.4l-2.7 4z" fill="#8796a0"/>
<text x="627.0" y="245.7" font-size="10.7" fill="#e8e8e8" stroke="#e8e8e8" stroke-width="0.3" text-anchor="start" font-weight="normal" textLength="52.2" lengthAdjust="spacingAndGlyphs">Trace State</text>
<text x="637.5" y="268.0" font-size="9.2" fill="#7c8892" stroke="#7c8892" stroke-width="0.3" text-anchor="start" font-weight="normal" textLength="11.5" lengthAdjust="spacingAndGlyphs">On</text>
<text x="655.4" y="268.0" font-size="9.2" fill="#e8e8e8" stroke="#e8e8e8" stroke-width="0.3" text-anchor="start" font-weight="normal" textLength="12.6" lengthAdjust="spacingAndGlyphs">Off</text>
<rect x="655.4" y="269.2" width="12.6" height="1" fill="#b0b8c0"/>
<text x="640.8" y="294.8" font-size="10.7" fill="#e8e8e8" stroke="#e8e8e8" stroke-width="0.3" text-anchor="start" font-weight="normal" textLength="23.8" lengthAdjust="spacingAndGlyphs">Color</text>
<text x="638.3" y="317.0" font-size="9.2" fill="#e8e8e8" stroke="#e8e8e8" stroke-width="0.3" text-anchor="start" font-weight="normal" textLength="24.0" lengthAdjust="spacingAndGlyphs">Warm</text>
<path d="M690.7 312.7h5.4l-2.7 4z" fill="#8796a0"/>
<text x="625.5" y="343.9" font-size="10.7" fill="#e8e8e8" stroke="#e8e8e8" stroke-width="0.3" text-anchor="start" font-weight="normal" textLength="54.7" lengthAdjust="spacingAndGlyphs">Color Curve</text>
<text x="650.9" y="365.7" font-size="9.2" fill="#e8e8e8" stroke="#e8e8e8" stroke-width="0.3" text-anchor="start" font-weight="normal" textLength="4.5" lengthAdjust="spacingAndGlyphs">5</text>
<text x="632.2" y="399.6" font-size="10.7" fill="#e8e8e8" stroke="#e8e8e8" stroke-width="0.3" text-anchor="start" font-weight="normal" textLength="40.9" lengthAdjust="spacingAndGlyphs">Page 1/2</text>
</svg>
</body></html>
